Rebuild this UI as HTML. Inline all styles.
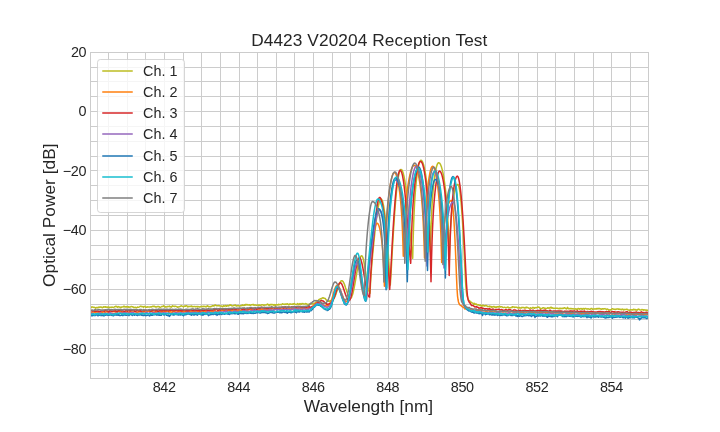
<!DOCTYPE html><html><head><meta charset="utf-8"><style>html,body{margin:0;padding:0;background:#fff}svg{display:block}text{font-family:"Liberation Sans",sans-serif;fill:#262626}</style></head><body>
<svg width="720" height="432" viewBox="0 0 720 432">
<defs><filter id="gf" x="0" y="0" width="720" height="432" filterUnits="userSpaceOnUse"><feOffset dx="0" dy="0"/></filter></defs>
<rect width="720" height="432" fill="#fff"/>
<path d="M90.5,52.0V378.5M108.5,52.0V378.5M127.5,52.0V378.5M145.5,52.0V378.5M164.5,52.0V378.5M183.5,52.0V378.5M201.5,52.0V378.5M220.5,52.0V378.5M239.5,52.0V378.5M257.5,52.0V378.5M276.5,52.0V378.5M294.5,52.0V378.5M313.5,52.0V378.5M332.5,52.0V378.5M350.5,52.0V378.5M369.5,52.0V378.5M388.5,52.0V378.5M406.5,52.0V378.5M425.5,52.0V378.5M444.5,52.0V378.5M462.5,52.0V378.5M481.5,52.0V378.5M499.5,52.0V378.5M518.5,52.0V378.5M537.5,52.0V378.5M555.5,52.0V378.5M574.5,52.0V378.5M593.5,52.0V378.5M611.5,52.0V378.5M630.5,52.0V378.5M648.5,52.0V378.5M90.0,378.5H648.5M90.0,363.5H648.5M90.0,348.5H648.5M90.0,334.5H648.5M90.0,319.5H648.5M90.0,304.5H648.5M90.0,289.5H648.5M90.0,274.5H648.5M90.0,259.5H648.5M90.0,245.5H648.5M90.0,230.5H648.5M90.0,215.5H648.5M90.0,200.5H648.5M90.0,185.5H648.5M90.0,170.5H648.5M90.0,156.5H648.5M90.0,141.5H648.5M90.0,126.5H648.5M90.0,111.5H648.5M90.0,96.5H648.5M90.0,81.5H648.5M90.0,67.5H648.5M90.0,52.5H648.5" stroke="#cccccc" stroke-width="1" fill="none" shape-rendering="crispEdges"/>
<clipPath id="c"><rect x="90" y="52" width="558" height="326"/></clipPath>
<g clip-path="url(#c)" fill="none" stroke-width="1.5" stroke-linejoin="round" stroke-opacity="1.00">
<path d="M90.0,307.0 L90.5,307.0 L91.0,307.8 L91.5,307.3 L92.0,306.8 L92.5,307.1 L93.0,307.2 L93.5,307.4 L94.0,307.2 L94.5,307.6 L95.0,307.5 L95.5,308.1 L96.0,307.8 L96.5,307.5 L97.0,307.7 L97.5,307.7 L98.0,307.2 L98.5,307.4 L99.0,307.1 L99.5,307.5 L100.0,307.1 L100.5,307.2 L101.0,306.9 L101.5,307.1 L102.0,307.6 L102.5,307.7 L103.0,307.2 L103.5,306.7 L104.0,307.2 L104.5,306.9 L105.0,306.8 L105.5,307.2 L106.0,306.8 L106.5,307.2 L107.0,307.5 L107.5,307.3 L108.0,306.9 L108.5,306.9 L109.0,307.5 L109.5,307.3 L110.0,307.6 L110.5,307.3 L111.0,307.2 L111.5,307.2 L112.0,307.1 L112.5,307.2 L113.0,307.4 L113.5,307.5 L114.0,307.2 L114.5,306.8 L115.0,306.7 L115.5,306.6 L116.0,306.2 L116.5,306.7 L117.0,306.6 L117.5,307.4 L118.0,307.0 L118.5,306.6 L119.0,306.9 L119.5,307.0 L120.0,307.2 L120.5,307.2 L121.0,307.6 L121.5,307.1 L122.0,307.1 L122.5,306.9 L123.0,306.8 L123.5,306.4 L124.0,306.9 L124.5,306.4 L125.0,306.8 L125.5,307.0 L126.0,307.1 L126.5,306.5 L127.0,307.0 L127.5,306.8 L128.0,307.0 L128.5,306.8 L129.0,307.5 L129.5,307.0 L130.0,306.9 L130.5,307.0 L131.0,306.5 L131.5,306.6 L132.0,306.7 L132.5,306.9 L133.0,306.8 L133.5,307.4 L134.0,307.7 L134.5,307.6 L135.0,307.2 L135.5,307.2 L136.0,307.7 L136.5,307.8 L137.0,307.5 L137.5,307.0 L138.0,307.3 L138.5,307.3 L139.0,307.1 L139.5,306.9 L140.0,306.5 L140.5,306.2 L141.0,306.2 L141.5,306.6 L142.0,306.8 L142.5,306.6 L143.0,306.7 L143.5,307.2 L144.0,306.6 L144.5,306.6 L145.0,306.4 L145.5,307.2 L146.0,306.9 L146.5,307.3 L147.0,307.2 L147.5,306.8 L148.0,307.0 L148.5,306.9 L149.0,307.0 L149.5,306.9 L150.0,307.0 L150.5,307.1 L151.0,306.7 L151.5,307.0 L152.0,306.6 L152.5,306.3 L153.0,306.4 L153.5,306.3 L154.0,306.4 L154.5,306.2 L155.0,306.8 L155.5,307.0 L156.0,306.7 L156.5,307.1 L157.0,306.9 L157.5,306.6 L158.0,306.3 L158.5,306.7 L159.0,306.7 L159.5,306.8 L160.0,307.6 L160.5,307.4 L161.0,307.0 L161.5,306.5 L162.0,306.5 L162.5,306.4 L163.0,306.4 L163.5,305.8 L164.0,306.3 L164.5,306.2 L165.0,307.1 L165.5,306.8 L166.0,307.0 L166.5,306.9 L167.0,306.5 L167.5,306.7 L168.0,306.5 L168.5,306.5 L169.0,306.5 L169.5,306.0 L170.0,306.8 L170.5,306.9 L171.0,306.7 L171.5,307.1 L172.0,306.5 L172.5,305.8 L173.0,306.3 L173.5,306.2 L174.0,306.4 L174.5,306.3 L175.0,306.4 L175.5,306.2 L176.0,306.4 L176.5,306.7 L177.0,306.7 L177.5,307.2 L178.0,307.0 L178.5,306.9 L179.0,306.8 L179.5,306.8 L180.0,306.6 L180.5,306.2 L181.0,306.0 L181.5,305.8 L182.0,306.1 L182.5,306.4 L183.0,306.6 L183.5,306.9 L184.0,306.5 L184.5,305.9 L185.0,306.0 L185.5,306.3 L186.0,305.8 L186.5,305.8 L187.0,305.8 L187.5,306.8 L188.0,306.9 L188.5,306.5 L189.0,306.3 L189.5,306.4 L190.0,306.5 L190.5,306.5 L191.0,306.1 L191.5,306.0 L192.0,306.7 L192.5,306.5 L193.0,306.8 L193.5,306.6 L194.0,306.6 L194.5,306.6 L195.0,306.4 L195.5,306.8 L196.0,306.8 L196.5,306.6 L197.0,306.5 L197.5,306.9 L198.0,306.4 L198.5,306.6 L199.0,306.8 L199.5,307.1 L200.0,307.1 L200.5,306.5 L201.0,306.7 L201.5,306.4 L202.0,306.6 L202.5,306.5 L203.0,306.7 L203.5,306.3 L204.0,306.3 L204.5,306.5 L205.0,306.5 L205.5,306.6 L206.0,307.0 L206.5,306.3 L207.0,306.3 L207.5,305.7 L208.0,306.2 L208.5,306.7 L209.0,306.4 L209.5,306.6 L210.0,307.0 L210.5,306.6 L211.0,306.6 L211.5,306.6 L212.0,306.1 L212.5,305.7 L213.0,305.8 L213.5,305.7 L214.0,306.1 L214.5,305.4 L215.0,305.1 L215.5,305.0 L216.0,305.6 L216.5,305.7 L217.0,305.8 L217.5,305.8 L218.0,305.7 L218.5,305.6 L219.0,305.8 L219.5,305.8 L220.0,305.9 L220.5,305.9 L221.0,305.9 L221.5,305.9 L222.0,306.5 L222.5,306.7 L223.0,306.6 L223.5,305.6 L224.0,305.9 L224.5,306.2 L225.0,306.1 L225.5,305.5 L226.0,305.5 L226.5,306.4 L227.0,306.0 L227.5,305.4 L228.0,305.5 L228.5,305.9 L229.0,305.8 L229.5,305.3 L230.0,304.8 L230.5,305.3 L231.0,305.0 L231.5,305.6 L232.0,305.9 L232.5,305.9 L233.0,305.7 L233.5,305.6 L234.0,305.5 L234.5,305.3 L235.0,305.1 L235.5,305.0 L236.0,305.8 L236.5,306.1 L237.0,305.8 L237.5,305.8 L238.0,305.5 L238.5,305.5 L239.0,305.9 L239.5,305.9 L240.0,305.9 L240.5,305.8 L241.0,305.8 L241.5,305.3 L242.0,305.6 L242.5,304.9 L243.0,305.2 L243.5,305.4 L244.0,305.4 L244.5,304.8 L245.0,305.3 L245.5,304.9 L246.0,304.3 L246.5,304.8 L247.0,305.0 L247.5,304.6 L248.0,305.0 L248.5,305.0 L249.0,305.1 L249.5,304.7 L250.0,305.2 L250.5,305.2 L251.0,305.1 L251.5,304.7 L252.0,304.7 L252.5,304.8 L253.0,304.4 L253.5,304.5 L254.0,305.2 L254.5,305.0 L255.0,305.0 L255.5,304.9 L256.0,305.2 L256.5,305.4 L257.0,305.2 L257.5,304.9 L258.0,305.2 L258.5,305.3 L259.0,305.0 L259.5,305.1 L260.0,305.2 L260.5,305.3 L261.0,305.1 L261.5,304.8 L262.0,304.9 L262.5,304.7 L263.0,304.8 L263.5,305.2 L264.0,305.3 L264.5,305.0 L265.0,305.0 L265.5,305.0 L266.0,305.0 L266.5,304.7 L267.0,304.6 L267.5,304.0 L268.0,304.4 L268.5,305.1 L269.0,304.7 L269.5,305.1 L270.0,304.6 L270.5,304.5 L271.0,304.9 L271.5,304.4 L272.0,304.4 L272.5,304.8 L273.0,304.6 L273.5,304.8 L274.0,305.4 L274.5,304.6 L275.0,304.9 L275.5,305.3 L276.0,304.8 L276.5,304.6 L277.0,304.8 L277.5,304.8 L278.0,305.1 L278.5,304.3 L279.0,304.4 L279.5,304.7 L280.0,304.7 L280.5,304.4 L281.0,304.6 L281.5,304.7 L282.0,304.2 L282.5,303.7 L283.0,304.1 L283.5,304.2 L284.0,304.3 L284.5,304.4 L285.0,304.1 L285.5,304.0 L286.0,304.5 L286.5,304.2 L287.0,303.8 L287.5,303.7 L288.0,304.2 L288.5,304.8 L289.0,304.8 L289.5,304.0 L290.0,304.1 L290.5,303.9 L291.0,304.3 L291.5,304.3 L292.0,304.1 L292.5,303.9 L293.0,304.4 L293.5,303.8 L294.0,303.8 L294.5,303.6 L295.0,304.1 L295.5,304.5 L296.0,304.4 L296.5,304.5 L297.0,304.2 L297.5,303.6 L298.0,303.9 L298.5,304.5 L299.0,304.0 L299.5,304.3 L300.0,303.6 L300.5,304.0 L301.0,304.3 L301.5,304.2 L302.0,303.5 L302.5,303.8 L303.0,303.6 L303.5,304.0 L304.0,304.1 L304.5,304.0 L305.0,304.0 L305.5,303.6 L306.0,303.7 L306.5,304.0 L307.0,304.1 L307.5,304.5 L308.0,304.4 L308.5,304.9 L309.0,304.1 L309.5,304.0 L310.0,304.0 L310.5,303.6 L311.0,303.9 L311.5,303.8 L312.0,303.8 L312.5,303.8 L313.0,304.0 L313.5,304.1 L314.0,303.7 L314.5,303.7 L315.0,302.9 L315.5,302.5 L316.0,302.1 L316.5,302.0 L317.0,301.6 L317.5,301.0 L318.0,300.6 L318.5,300.2 L319.0,299.4 L319.5,299.5 L320.0,299.0 L320.5,298.8 L321.0,298.6 L321.5,298.7 L322.0,298.2 L322.5,297.9 L322.8,297.7 L323.0,297.8 L323.5,298.0 L324.0,298.2 L324.5,298.3 L325.0,298.4 L325.5,298.9 L326.0,299.7 L326.5,300.1 L327.0,300.5 L327.5,301.0 L328.0,301.3 L328.5,300.9 L329.0,301.2 L329.5,301.0 L330.0,301.2 L330.5,300.8 L331.0,300.7 L331.5,300.2 L332.0,300.0 L332.5,300.0 L333.0,299.5 L333.5,299.1 L334.0,298.2 L334.5,297.4 L335.0,296.4 L335.5,295.2 L336.0,293.9 L336.5,292.3 L337.0,291.0 L337.5,289.5 L338.0,287.6 L338.5,286.0 L339.0,284.8 L339.5,283.6 L340.0,282.4 L340.5,281.7 L341.0,281.0 L341.5,280.7 L341.7,280.7 L342.0,280.7 L342.5,280.9 L343.0,281.5 L343.5,282.3 L344.0,283.4 L344.5,284.5 L345.0,286.0 L345.5,287.7 L346.0,289.1 L346.5,290.6 L347.0,292.1 L347.5,293.5 L348.0,294.7 L348.5,295.6 L349.0,297.0 L349.5,297.4 L350.0,297.9 L350.5,298.1 L351.0,298.0 L351.5,297.4 L352.0,296.1 L352.5,294.8 L353.0,293.1 L353.5,290.9 L354.0,288.6 L354.5,285.9 L355.0,283.3 L355.5,280.4 L356.0,277.4 L356.5,274.5 L357.0,271.6 L357.5,268.8 L358.0,266.2 L358.5,263.7 L359.0,261.6 L359.5,259.7 L360.0,258.2 L360.5,257.0 L361.0,256.2 L361.5,255.8 L361.7,255.8 L362.0,255.9 L362.5,256.7 L363.0,258.0 L363.5,260.0 L364.0,262.4 L364.5,265.3 L365.0,268.5 L365.5,271.9 L366.0,275.5 L366.5,279.0 L367.0,282.3 L367.5,285.2 L368.0,287.8 L368.5,289.9 L369.0,291.6 L369.5,292.8 L370.0,293.2 L370.5,283.5 L371.0,275.3 L371.5,268.4 L372.0,262.1 L372.5,256.4 L373.0,251.0 L373.5,245.9 L374.0,241.0 L374.5,236.2 L375.0,231.5 L375.5,227.0 L376.0,222.7 L376.5,218.7 L377.0,214.8 L377.5,211.3 L378.0,208.2 L378.5,205.5 L379.0,203.2 L379.5,201.4 L380.0,200.1 L380.5,199.3 L381.0,199.0 L381.5,199.3 L382.0,200.0 L382.5,201.3 L383.0,203.1 L383.5,205.5 L384.0,208.3 L384.5,211.7 L385.0,215.5 L385.5,219.9 L386.0,224.8 L386.5,230.2 L387.0,236.1 L387.5,242.5 L388.0,249.4 L388.5,256.8 L389.0,264.5 L389.5,272.5 L390.0,280.5 L390.3,284.9 L390.5,282.0 L391.0,273.7 L391.5,264.9 L392.0,256.0 L392.5,247.1 L393.0,238.6 L393.5,230.4 L394.0,222.6 L394.5,215.4 L395.0,208.6 L395.5,202.4 L396.0,196.7 L396.5,191.5 L397.0,186.9 L397.5,182.8 L398.0,179.2 L398.5,176.2 L399.0,173.8 L399.5,171.9 L400.0,170.5 L400.5,169.7 L401.0,169.4 L401.5,169.6 L402.0,170.2 L402.5,171.2 L403.0,172.5 L403.5,174.3 L404.0,176.4 L404.5,179.0 L405.0,181.9 L405.5,185.2 L406.0,188.9 L406.5,193.0 L407.0,197.5 L407.5,202.3 L408.0,207.4 L408.5,212.9 L409.0,218.6 L409.5,224.5 L410.0,230.5 L410.5,236.6 L411.0,242.4 L411.5,248.0 L412.0,252.9 L412.5,257.0 L412.7,258.3 L413.0,245.2 L413.5,227.8 L414.0,214.6 L414.5,204.4 L415.0,196.3 L415.5,189.6 L416.0,184.1 L416.5,179.3 L417.0,175.2 L417.5,171.7 L418.0,168.7 L418.5,166.1 L419.0,164.0 L419.5,162.4 L420.0,161.2 L420.5,160.5 L421.0,160.3 L421.5,160.5 L422.0,161.0 L422.5,161.8 L423.0,163.0 L423.5,164.5 L424.0,166.4 L424.5,168.6 L425.0,171.1 L425.5,174.0 L426.0,177.3 L426.5,181.1 L427.0,185.4 L427.5,190.4 L428.0,196.3 L428.5,203.5 L429.0,212.2 L429.5,223.3 L430.0,237.5 L430.4,251.7 L430.5,247.5 L431.0,229.7 L431.5,216.3 L432.0,206.1 L432.5,198.1 L433.0,191.6 L433.5,186.2 L434.0,181.6 L434.5,177.7 L435.0,174.3 L435.5,171.3 L436.0,168.8 L436.5,166.8 L437.0,165.1 L437.5,163.9 L438.0,163.1 L438.5,162.7 L438.7,162.7 L439.0,162.8 L439.5,163.1 L440.0,163.7 L440.5,164.5 L441.0,165.7 L441.5,167.1 L442.0,168.9 L442.5,170.9 L443.0,173.2 L443.5,175.8 L444.0,178.8 L444.5,182.1 L445.0,185.8 L445.5,189.9 L446.0,194.7 L446.5,200.2 L447.0,206.6 L447.5,214.4 L448.0,223.8 L448.5,235.5 L449.0,250.0 L449.3,260.4 L449.5,253.6 L450.0,239.6 L450.5,228.9 L451.0,220.6 L451.5,214.1 L452.0,208.8 L452.5,204.3 L453.0,200.5 L453.5,197.2 L454.0,194.4 L454.5,191.9 L455.0,189.8 L455.5,188.0 L456.0,186.6 L456.5,185.6 L457.0,184.8 L457.5,184.5 L457.8,184.4 L458.0,184.5 L458.5,185.2 L459.0,186.8 L459.5,189.3 L460.0,192.6 L460.5,196.7 L461.0,201.7 L461.5,207.6 L462.0,214.3 L462.5,221.8 L463.0,230.1 L463.5,239.3 L464.0,249.2 L464.5,259.6 L465.0,270.3 L465.5,280.2 L466.0,287.9 L466.5,292.6 L467.0,295.8 L467.5,297.2 L468.0,298.7 L468.5,300.2 L469.0,300.6 L469.5,300.6 L470.0,301.3 L470.5,302.1 L471.0,302.0 L471.5,302.6 L472.0,302.9 L472.5,303.0 L473.0,303.2 L473.5,303.9 L474.0,304.6 L474.5,303.4 L475.0,303.8 L475.5,304.4 L476.0,304.0 L476.5,304.2 L477.0,304.6 L477.5,305.0 L478.0,305.1 L478.5,304.7 L479.0,305.0 L479.5,305.4 L480.0,305.7 L480.5,305.1 L481.0,305.8 L481.5,305.6 L482.0,306.2 L482.5,305.5 L483.0,305.2 L483.5,305.5 L484.0,306.0 L484.5,305.8 L485.0,306.0 L485.5,305.5 L486.0,305.4 L486.5,305.7 L487.0,306.0 L487.5,306.6 L488.0,306.6 L488.5,306.5 L489.0,306.5 L489.5,306.1 L490.0,306.8 L490.5,306.5 L491.0,306.4 L491.5,307.4 L492.0,306.8 L492.5,307.0 L493.0,306.9 L493.5,306.6 L494.0,306.5 L494.5,306.8 L495.0,307.4 L495.5,307.4 L496.0,306.9 L496.5,307.3 L497.0,307.0 L497.5,306.8 L498.0,306.6 L498.5,307.0 L499.0,306.4 L499.5,306.4 L500.0,306.8 L500.5,307.1 L501.0,306.6 L501.5,306.8 L502.0,306.8 L502.5,307.2 L503.0,307.4 L503.5,307.6 L504.0,307.4 L504.5,307.2 L505.0,307.4 L505.5,307.6 L506.0,307.7 L506.5,307.7 L507.0,307.3 L507.5,307.3 L508.0,307.0 L508.5,307.9 L509.0,307.6 L509.5,307.8 L510.0,307.8 L510.5,307.8 L511.0,307.6 L511.5,307.3 L512.0,307.6 L512.5,306.7 L513.0,307.0 L513.5,307.0 L514.0,307.1 L514.5,307.5 L515.0,307.2 L515.5,307.3 L516.0,307.1 L516.5,307.3 L517.0,307.3 L517.5,307.7 L518.0,308.0 L518.5,307.8 L519.0,307.4 L519.5,307.9 L520.0,307.8 L520.5,308.0 L521.0,308.0 L521.5,308.0 L522.0,307.3 L522.5,307.6 L523.0,307.5 L523.5,307.6 L524.0,307.6 L524.5,308.1 L525.0,307.8 L525.5,307.9 L526.0,307.2 L526.5,307.7 L527.0,307.3 L527.5,307.6 L528.0,307.7 L528.5,308.1 L529.0,308.2 L529.5,308.4 L530.0,308.4 L530.5,307.7 L531.0,308.0 L531.5,308.2 L532.0,308.2 L532.5,307.9 L533.0,307.4 L533.5,307.8 L534.0,308.0 L534.5,308.3 L535.0,307.6 L535.5,307.7 L536.0,307.8 L536.5,307.8 L537.0,307.4 L537.5,307.2 L538.0,307.0 L538.5,307.2 L539.0,307.2 L539.5,307.6 L540.0,308.1 L540.5,309.2 L541.0,308.4 L541.5,308.5 L542.0,308.5 L542.5,308.1 L543.0,307.7 L543.5,307.7 L544.0,308.1 L544.5,308.2 L545.0,308.1 L545.5,308.5 L546.0,308.6 L546.5,308.6 L547.0,308.4 L547.5,307.8 L548.0,307.8 L548.5,308.0 L549.0,308.5 L549.5,308.0 L550.0,307.6 L550.5,307.3 L551.0,307.9 L551.5,307.4 L552.0,308.1 L552.5,307.8 L553.0,308.3 L553.5,308.2 L554.0,308.6 L554.5,308.4 L555.0,308.2 L555.5,308.3 L556.0,308.2 L556.5,308.3 L557.0,308.1 L557.5,308.3 L558.0,308.6 L558.5,308.4 L559.0,308.8 L559.5,308.2 L560.0,308.8 L560.5,308.2 L561.0,308.6 L561.5,308.4 L562.0,308.7 L562.5,308.3 L563.0,308.2 L563.5,308.4 L564.0,308.0 L564.5,307.8 L565.0,308.0 L565.5,308.3 L566.0,308.7 L566.5,308.9 L567.0,308.4 L567.5,307.4 L568.0,308.3 L568.5,308.8 L569.0,308.5 L569.5,308.7 L570.0,308.8 L570.5,308.4 L571.0,308.7 L571.5,308.6 L572.0,308.9 L572.5,308.8 L573.0,308.6 L573.5,308.9 L574.0,309.0 L574.5,309.1 L575.0,308.9 L575.5,308.8 L576.0,309.2 L576.5,309.1 L577.0,309.2 L577.5,309.2 L578.0,308.6 L578.5,308.5 L579.0,308.8 L579.5,309.2 L580.0,308.8 L580.5,308.7 L581.0,308.5 L581.5,308.7 L582.0,309.3 L582.5,309.3 L583.0,308.5 L583.5,308.5 L584.0,309.1 L584.5,309.2 L585.0,308.4 L585.5,308.6 L586.0,308.6 L586.5,309.0 L587.0,309.0 L587.5,309.0 L588.0,308.7 L588.5,309.1 L589.0,309.1 L589.5,309.2 L590.0,309.3 L590.5,309.0 L591.0,308.6 L591.5,308.5 L592.0,308.6 L592.5,309.5 L593.0,309.1 L593.5,308.9 L594.0,308.9 L594.5,308.9 L595.0,308.8 L595.5,309.1 L596.0,309.1 L596.5,308.5 L597.0,309.0 L597.5,308.5 L598.0,308.8 L598.5,308.5 L599.0,308.7 L599.5,308.5 L600.0,308.8 L600.5,308.8 L601.0,309.2 L601.5,309.3 L602.0,308.7 L602.5,309.1 L603.0,308.7 L603.5,309.1 L604.0,308.8 L604.5,308.8 L605.0,308.6 L605.5,308.9 L606.0,309.1 L606.5,309.6 L607.0,308.9 L607.5,309.0 L608.0,309.4 L608.5,309.9 L609.0,310.0 L609.5,309.9 L610.0,309.7 L610.5,310.1 L611.0,309.8 L611.5,309.4 L612.0,308.9 L612.5,308.7 L613.0,308.9 L613.5,309.2 L614.0,309.2 L614.5,309.3 L615.0,309.5 L615.5,309.3 L616.0,309.4 L616.5,309.1 L617.0,309.0 L617.5,309.1 L618.0,308.8 L618.5,309.2 L619.0,309.4 L619.5,309.1 L620.0,309.4 L620.5,309.4 L621.0,309.2 L621.5,309.7 L622.0,309.5 L622.5,309.1 L623.0,309.4 L623.5,309.9 L624.0,309.4 L624.5,309.7 L625.0,309.5 L625.5,309.6 L626.0,309.6 L626.5,309.2 L627.0,309.2 L627.5,309.6 L628.0,310.0 L628.5,309.9 L629.0,310.2 L629.5,310.5 L630.0,310.0 L630.5,309.8 L631.0,309.8 L631.5,309.8 L632.0,310.1 L632.5,309.7 L633.0,310.0 L633.5,309.2 L634.0,309.4 L634.5,309.4 L635.0,309.9 L635.5,309.6 L636.0,310.1 L636.5,310.1 L637.0,310.2 L637.5,309.5 L638.0,309.6 L638.5,309.1 L639.0,309.3 L639.5,309.4 L640.0,310.0 L640.5,309.9 L641.0,309.9 L641.5,309.8 L642.0,309.4 L642.5,309.8 L643.0,309.8 L643.5,310.2 L644.0,309.7 L644.5,309.9 L645.0,309.9 L645.5,309.9 L646.0,310.4 L646.5,310.1 L647.0,309.9 L647.5,310.7 L648.0,310.5 L648.5,310.2 L649.0,309.8" stroke="#bcbd22"/>
<path d="M90.0,312.4 L90.5,312.6 L91.0,312.6 L91.5,312.8 L92.0,312.2 L92.5,312.0 L93.0,311.8 L93.5,311.8 L94.0,312.3 L94.5,312.3 L95.0,312.0 L95.5,311.8 L96.0,312.4 L96.5,311.9 L97.0,311.9 L97.5,312.2 L98.0,312.5 L98.5,312.7 L99.0,312.2 L99.5,311.8 L100.0,311.6 L100.5,312.0 L101.0,312.1 L101.5,312.5 L102.0,312.5 L102.5,312.6 L103.0,312.0 L103.5,311.7 L104.0,311.9 L104.5,312.2 L105.0,311.9 L105.5,312.4 L106.0,311.7 L106.5,311.9 L107.0,311.7 L107.5,312.0 L108.0,312.2 L108.5,312.0 L109.0,312.2 L109.5,312.5 L110.0,312.0 L110.5,311.8 L111.0,311.6 L111.5,311.7 L112.0,311.6 L112.5,311.3 L113.0,311.9 L113.5,311.6 L114.0,311.1 L114.5,311.7 L115.0,311.5 L115.5,311.9 L116.0,312.3 L116.5,311.8 L117.0,311.5 L117.5,312.1 L118.0,311.5 L118.5,311.4 L119.0,311.4 L119.5,311.5 L120.0,312.1 L120.5,312.0 L121.0,311.4 L121.5,312.1 L122.0,312.2 L122.5,312.0 L123.0,312.5 L123.5,312.5 L124.0,312.4 L124.5,312.0 L125.0,311.9 L125.5,312.4 L126.0,312.3 L126.5,312.0 L127.0,311.6 L127.5,311.9 L128.0,312.0 L128.5,312.2 L129.0,312.3 L129.5,312.3 L130.0,312.1 L130.5,312.1 L131.0,311.9 L131.5,312.0 L132.0,312.1 L132.5,312.1 L133.0,311.7 L133.5,311.9 L134.0,311.9 L134.5,311.6 L135.0,311.7 L135.5,312.0 L136.0,311.8 L136.5,312.3 L137.0,312.2 L137.5,312.3 L138.0,312.3 L138.5,311.5 L139.0,311.1 L139.5,311.7 L140.0,311.6 L140.5,311.6 L141.0,311.9 L141.5,311.9 L142.0,311.9 L142.5,311.6 L143.0,312.1 L143.5,311.3 L144.0,311.9 L144.5,311.7 L145.0,312.0 L145.5,311.9 L146.0,311.9 L146.5,312.3 L147.0,311.8 L147.5,311.1 L148.0,311.3 L148.5,310.8 L149.0,311.1 L149.5,311.2 L150.0,311.6 L150.5,311.5 L151.0,311.7 L151.5,311.3 L152.0,311.6 L152.5,311.6 L153.0,312.0 L153.5,312.5 L154.0,312.3 L154.5,312.2 L155.0,311.7 L155.5,311.5 L156.0,312.2 L156.5,311.4 L157.0,311.5 L157.5,311.7 L158.0,312.0 L158.5,311.7 L159.0,311.7 L159.5,311.9 L160.0,312.2 L160.5,311.9 L161.0,311.7 L161.5,312.1 L162.0,312.2 L162.5,311.7 L163.0,311.8 L163.5,311.7 L164.0,311.7 L164.5,311.2 L165.0,311.5 L165.5,311.6 L166.0,311.2 L166.5,311.4 L167.0,311.3 L167.5,311.3 L168.0,311.4 L168.5,312.2 L169.0,312.2 L169.5,311.6 L170.0,312.0 L170.5,311.7 L171.0,312.0 L171.5,312.0 L172.0,312.2 L172.5,312.2 L173.0,311.7 L173.5,311.5 L174.0,311.6 L174.5,311.7 L175.0,312.0 L175.5,312.5 L176.0,312.1 L176.5,312.4 L177.0,312.1 L177.5,312.0 L178.0,311.5 L178.5,311.6 L179.0,311.8 L179.5,311.6 L180.0,311.4 L180.5,311.5 L181.0,311.9 L181.5,312.0 L182.0,311.5 L182.5,311.8 L183.0,311.6 L183.5,311.4 L184.0,311.9 L184.5,311.8 L185.0,311.7 L185.5,311.6 L186.0,310.6 L186.5,311.4 L187.0,311.9 L187.5,310.9 L188.0,310.4 L188.5,310.9 L189.0,311.5 L189.5,311.6 L190.0,311.7 L190.5,311.3 L191.0,311.1 L191.5,311.4 L192.0,311.0 L192.5,311.6 L193.0,311.7 L193.5,311.5 L194.0,311.2 L194.5,311.8 L195.0,311.6 L195.5,311.0 L196.0,310.9 L196.5,310.6 L197.0,311.3 L197.5,311.0 L198.0,311.2 L198.5,311.4 L199.0,311.8 L199.5,311.1 L200.0,311.5 L200.5,311.3 L201.0,311.3 L201.5,310.6 L202.0,311.0 L202.5,311.2 L203.0,311.4 L203.5,311.5 L204.0,311.1 L204.5,310.7 L205.0,311.2 L205.5,310.8 L206.0,311.8 L206.5,311.4 L207.0,310.6 L207.5,311.2 L208.0,311.1 L208.5,310.9 L209.0,310.9 L209.5,310.9 L210.0,310.5 L210.5,311.2 L211.0,311.5 L211.5,311.3 L212.0,310.9 L212.5,311.0 L213.0,311.3 L213.5,311.3 L214.0,311.0 L214.5,311.1 L215.0,310.6 L215.5,311.0 L216.0,311.4 L216.5,311.4 L217.0,311.4 L217.5,311.3 L218.0,310.6 L218.5,311.2 L219.0,311.3 L219.5,310.7 L220.0,310.7 L220.5,311.0 L221.0,311.0 L221.5,310.5 L222.0,310.3 L222.5,310.2 L223.0,310.5 L223.5,310.9 L224.0,311.0 L224.5,310.7 L225.0,310.8 L225.5,310.5 L226.0,310.9 L226.5,310.8 L227.0,310.6 L227.5,310.9 L228.0,310.7 L228.5,310.5 L229.0,310.2 L229.5,310.4 L230.0,310.9 L230.5,310.3 L231.0,310.7 L231.5,310.2 L232.0,310.1 L232.5,310.6 L233.0,310.2 L233.5,310.2 L234.0,310.2 L234.5,310.7 L235.0,310.6 L235.5,310.3 L236.0,310.2 L236.5,310.4 L237.0,310.1 L237.5,310.4 L238.0,310.7 L238.5,310.6 L239.0,310.1 L239.5,310.6 L240.0,310.4 L240.5,310.7 L241.0,310.6 L241.5,310.3 L242.0,309.6 L242.5,310.5 L243.0,310.0 L243.5,310.2 L244.0,310.4 L244.5,310.7 L245.0,310.0 L245.5,310.5 L246.0,310.0 L246.5,309.9 L247.0,310.6 L247.5,310.2 L248.0,310.0 L248.5,309.5 L249.0,309.7 L249.5,309.1 L250.0,309.6 L250.5,309.9 L251.0,309.9 L251.5,309.5 L252.0,310.2 L252.5,309.9 L253.0,309.6 L253.5,309.7 L254.0,309.4 L254.5,309.3 L255.0,309.1 L255.5,309.1 L256.0,308.8 L256.5,309.3 L257.0,309.4 L257.5,309.4 L258.0,309.6 L258.5,309.4 L259.0,310.1 L259.5,309.4 L260.0,309.5 L260.5,309.7 L261.0,309.5 L261.5,309.2 L262.0,309.0 L262.5,309.6 L263.0,309.4 L263.5,309.6 L264.0,308.9 L264.5,309.0 L265.0,309.3 L265.5,309.3 L266.0,309.3 L266.5,309.1 L267.0,309.5 L267.5,309.3 L268.0,309.5 L268.5,309.5 L269.0,309.2 L269.5,309.2 L270.0,309.2 L270.5,309.0 L271.0,309.1 L271.5,308.9 L272.0,308.6 L272.5,308.9 L273.0,309.1 L273.5,309.3 L274.0,309.4 L274.5,309.0 L275.0,308.8 L275.5,309.3 L276.0,308.9 L276.5,308.4 L277.0,308.2 L277.5,308.4 L278.0,309.2 L278.5,308.7 L279.0,309.2 L279.5,308.8 L280.0,308.8 L280.5,308.6 L281.0,309.3 L281.5,309.5 L282.0,308.9 L282.5,309.0 L283.0,308.4 L283.5,308.5 L284.0,308.7 L284.5,308.6 L285.0,308.8 L285.5,308.1 L286.0,309.1 L286.5,308.8 L287.0,308.2 L287.5,308.2 L288.0,308.0 L288.5,308.0 L289.0,308.6 L289.5,308.6 L290.0,309.0 L290.5,309.1 L291.0,309.4 L291.5,308.7 L292.0,308.3 L292.5,308.5 L293.0,308.9 L293.5,309.1 L294.0,308.7 L294.5,308.7 L295.0,309.1 L295.5,309.2 L296.0,308.3 L296.5,308.6 L297.0,308.8 L297.5,308.7 L298.0,308.5 L298.5,307.9 L299.0,308.3 L299.5,308.6 L300.0,308.7 L300.5,307.9 L301.0,308.4 L301.5,308.6 L302.0,308.7 L302.5,308.2 L303.0,308.3 L303.5,308.1 L304.0,308.1 L304.5,308.2 L305.0,308.4 L305.5,308.0 L306.0,308.5 L306.5,309.0 L307.0,308.6 L307.5,308.5 L308.0,308.4 L308.5,308.2 L309.0,308.2 L309.5,308.1 L310.0,308.5 L310.5,308.2 L311.0,307.5 L311.5,307.0 L312.0,306.7 L312.5,306.1 L313.0,306.0 L313.5,305.8 L314.0,304.8 L314.5,304.3 L315.0,303.9 L315.5,303.4 L316.0,303.3 L316.5,302.6 L317.0,302.5 L317.5,302.4 L318.0,302.6 L318.5,302.2 L319.0,302.1 L319.5,302.4 L320.0,302.1 L320.5,302.4 L321.0,303.1 L321.5,303.3 L322.0,303.9 L322.5,304.5 L323.0,304.9 L323.5,305.4 L324.0,305.6 L324.5,305.5 L325.0,305.5 L325.5,305.4 L326.0,305.9 L326.5,305.9 L327.0,305.8 L327.5,305.3 L328.0,306.0 L328.5,305.5 L329.0,304.5 L329.5,304.1 L330.0,303.2 L330.5,302.3 L331.0,301.4 L331.5,300.1 L332.0,298.4 L332.5,296.7 L333.0,294.9 L333.5,293.1 L334.0,291.4 L334.5,290.0 L335.0,288.5 L335.5,287.2 L336.0,286.3 L336.5,285.6 L337.0,285.5 L337.5,285.6 L338.0,285.9 L338.5,286.4 L339.0,287.1 L339.5,288.2 L340.0,289.2 L340.5,290.3 L341.0,291.5 L341.5,292.9 L342.0,294.2 L342.5,295.4 L343.0,296.7 L343.5,298.0 L344.0,299.2 L344.5,299.8 L345.0,300.6 L345.5,301.3 L346.0,301.7 L346.4,301.5 L346.5,301.3 L347.0,301.0 L347.5,300.6 L348.0,299.9 L348.5,298.5 L349.0,296.8 L349.5,295.0 L350.0,293.1 L350.5,290.8 L351.0,288.4 L351.5,286.0 L352.0,283.5 L352.5,281.0 L353.0,278.5 L353.5,276.2 L354.0,274.0 L354.5,272.0 L355.0,270.3 L355.5,268.8 L356.0,267.6 L356.5,266.7 L357.0,266.2 L357.5,266.0 L358.0,266.3 L358.5,267.0 L359.0,268.2 L359.5,269.9 L360.0,271.9 L360.5,274.2 L361.0,276.8 L361.5,279.6 L362.0,282.5 L362.5,285.3 L363.0,288.1 L363.5,290.8 L364.0,293.0 L364.5,295.0 L365.0,296.6 L365.5,297.8 L366.0,298.5 L366.5,298.9 L367.0,291.1 L367.5,284.3 L368.0,278.7 L368.5,273.6 L369.0,268.9 L369.5,264.5 L370.0,260.3 L370.5,256.2 L371.0,252.3 L371.5,248.5 L372.0,244.8 L372.5,241.3 L373.0,238.0 L373.5,234.9 L374.0,232.1 L374.5,229.7 L375.0,227.6 L375.5,225.9 L376.0,224.6 L376.5,223.7 L377.0,223.3 L377.2,223.3 L377.5,223.4 L378.0,223.8 L378.5,224.7 L379.0,226.0 L379.5,227.7 L380.0,229.8 L380.5,232.3 L381.0,235.3 L381.5,238.9 L382.0,243.1 L382.5,248.3 L383.0,254.9 L383.5,263.5 L384.0,274.9 L384.4,286.3 L384.5,282.4 L385.0,263.6 L385.5,248.1 L386.0,235.6 L386.5,225.5 L387.0,217.2 L387.5,210.2 L388.0,204.3 L388.5,199.1 L389.0,194.5 L389.5,190.4 L390.0,186.8 L390.5,183.7 L391.0,180.9 L391.5,178.6 L392.0,176.6 L392.5,175.0 L393.0,173.8 L393.5,173.0 L394.0,172.6 L394.3,172.5 L394.5,172.5 L395.0,172.8 L395.5,173.5 L396.0,174.4 L396.5,175.8 L397.0,177.4 L397.5,179.4 L398.0,181.8 L398.5,184.5 L399.0,187.6 L399.5,191.1 L400.0,195.2 L400.5,199.9 L401.0,205.5 L401.5,212.4 L402.0,220.9 L402.5,231.8 L403.0,245.9 L403.3,256.3 L403.5,249.9 L404.0,236.1 L404.5,225.0 L405.0,216.0 L405.5,208.6 L406.0,202.4 L406.5,197.1 L407.0,192.6 L407.5,188.6 L408.0,185.1 L408.5,182.0 L409.0,179.2 L409.5,176.6 L410.0,174.4 L410.5,172.4 L411.0,170.6 L411.5,169.1 L412.0,167.9 L412.5,166.9 L413.0,166.1 L413.5,165.6 L414.0,165.3 L414.3,165.3 L414.5,165.3 L415.0,165.6 L415.5,166.1 L416.0,167.0 L416.5,168.1 L417.0,169.5 L417.5,171.2 L418.0,173.3 L418.5,175.6 L419.0,178.2 L419.5,181.1 L420.0,184.5 L420.5,188.2 L421.0,192.5 L421.5,197.4 L422.0,203.1 L422.5,210.0 L423.0,218.3 L423.5,228.7 L424.0,241.6 L424.5,258.0 L425.0,238.2 L425.5,223.4 L426.0,212.2 L426.5,203.5 L427.0,196.5 L427.5,190.8 L428.0,185.9 L428.5,181.7 L429.0,178.2 L429.5,175.1 L430.0,172.5 L430.5,170.3 L431.0,168.6 L431.5,167.4 L432.0,166.6 L432.5,166.3 L432.6,166.3 L433.0,166.4 L433.5,166.9 L434.0,167.8 L434.5,169.0 L435.0,170.7 L435.5,172.7 L436.0,175.1 L436.5,177.9 L437.0,181.1 L437.5,184.7 L438.0,188.9 L438.5,193.7 L439.0,199.3 L439.5,206.1 L440.0,214.2 L440.5,224.5 L441.0,237.5 L441.5,254.4 L441.7,262.5 L442.0,255.3 L442.5,245.3 L443.0,237.5 L443.5,231.4 L444.0,226.3 L444.5,222.2 L445.0,218.7 L445.5,215.7 L446.0,213.0 L446.5,210.7 L447.0,208.7 L447.5,206.9 L448.0,205.3 L448.5,203.9 L449.0,202.8 L449.5,201.9 L450.0,201.2 L450.5,200.8 L451.0,200.5 L451.3,200.5 L451.5,200.6 L452.0,201.9 L452.5,204.7 L453.0,208.9 L453.5,214.6 L454.0,221.7 L454.5,230.2 L455.0,240.2 L455.5,251.5 L456.0,263.9 L456.5,276.7 L457.0,288.3 L457.5,295.8 L458.0,299.5 L458.5,302.0 L459.0,303.4 L459.5,304.5 L460.0,305.0 L460.5,305.4 L461.0,305.5 L461.5,305.9 L462.0,306.4 L462.5,307.0 L463.0,306.9 L463.5,307.2 L464.0,307.8 L464.5,308.4 L465.0,309.0 L465.5,309.0 L466.0,308.6 L466.5,308.3 L467.0,308.8 L467.5,309.0 L468.0,309.0 L468.5,309.2 L469.0,309.7 L469.5,309.4 L470.0,309.8 L470.5,310.0 L471.0,310.0 L471.5,310.3 L472.0,309.9 L472.5,309.4 L473.0,309.4 L473.5,310.0 L474.0,310.5 L474.5,310.7 L475.0,310.4 L475.5,310.8 L476.0,310.6 L476.5,310.7 L477.0,310.5 L477.5,310.5 L478.0,311.0 L478.5,309.9 L479.0,310.2 L479.5,310.2 L480.0,310.5 L480.5,310.4 L481.0,311.0 L481.5,311.0 L482.0,310.5 L482.5,310.5 L483.0,310.9 L483.5,310.8 L484.0,310.8 L484.5,310.7 L485.0,311.0 L485.5,311.5 L486.0,311.4 L486.5,311.5 L487.0,311.5 L487.5,310.9 L488.0,310.7 L488.5,310.6 L489.0,310.4 L489.5,311.5 L490.0,311.5 L490.5,311.4 L491.0,310.9 L491.5,311.3 L492.0,311.4 L492.5,312.1 L493.0,312.1 L493.5,311.9 L494.0,311.6 L494.5,311.0 L495.0,311.4 L495.5,311.4 L496.0,311.5 L496.5,311.7 L497.0,312.2 L497.5,312.0 L498.0,312.0 L498.5,311.9 L499.0,311.6 L499.5,311.5 L500.0,311.5 L500.5,311.8 L501.0,312.1 L501.5,311.9 L502.0,311.5 L502.5,311.7 L503.0,312.2 L503.5,311.9 L504.0,311.8 L504.5,311.6 L505.0,311.4 L505.5,312.0 L506.0,311.9 L506.5,311.8 L507.0,311.7 L507.5,311.7 L508.0,311.8 L508.5,312.0 L509.0,312.3 L509.5,312.5 L510.0,311.6 L510.5,312.0 L511.0,311.6 L511.5,311.4 L512.0,311.8 L512.5,311.9 L513.0,312.0 L513.5,312.0 L514.0,311.3 L514.5,312.0 L515.0,311.7 L515.5,312.0 L516.0,311.8 L516.5,312.0 L517.0,312.6 L517.5,312.1 L518.0,312.1 L518.5,311.8 L519.0,311.6 L519.5,312.0 L520.0,312.0 L520.5,311.9 L521.0,312.4 L521.5,312.7 L522.0,311.7 L522.5,312.2 L523.0,312.3 L523.5,311.7 L524.0,312.3 L524.5,312.1 L525.0,312.0 L525.5,311.9 L526.0,312.0 L526.5,312.3 L527.0,312.1 L527.5,311.7 L528.0,311.8 L528.5,312.0 L529.0,312.1 L529.5,312.2 L530.0,312.3 L530.5,311.5 L531.0,312.3 L531.5,312.4 L532.0,311.6 L532.5,312.3 L533.0,312.7 L533.5,312.6 L534.0,312.2 L534.5,312.3 L535.0,312.3 L535.5,313.0 L536.0,312.2 L536.5,312.4 L537.0,312.5 L537.5,312.8 L538.0,312.3 L538.5,312.8 L539.0,312.6 L539.5,312.6 L540.0,312.8 L540.5,312.5 L541.0,312.3 L541.5,312.9 L542.0,312.6 L542.5,312.1 L543.0,312.0 L543.5,312.4 L544.0,312.2 L544.5,312.2 L545.0,312.2 L545.5,312.6 L546.0,312.6 L546.5,312.6 L547.0,312.7 L547.5,312.9 L548.0,312.5 L548.5,312.6 L549.0,312.8 L549.5,312.6 L550.0,312.4 L550.5,312.8 L551.0,312.4 L551.5,313.2 L552.0,313.4 L552.5,313.2 L553.0,312.8 L553.5,312.9 L554.0,312.4 L554.5,312.8 L555.0,312.9 L555.5,312.7 L556.0,313.1 L556.5,312.5 L557.0,312.7 L557.5,313.0 L558.0,313.0 L558.5,313.1 L559.0,313.2 L559.5,313.1 L560.0,313.0 L560.5,313.2 L561.0,313.1 L561.5,312.9 L562.0,313.0 L562.5,313.3 L563.0,312.7 L563.5,313.0 L564.0,312.6 L564.5,312.4 L565.0,312.7 L565.5,312.9 L566.0,313.0 L566.5,313.6 L567.0,313.1 L567.5,313.0 L568.0,313.4 L568.5,313.6 L569.0,313.7 L569.5,314.0 L570.0,313.0 L570.5,313.7 L571.0,313.8 L571.5,313.8 L572.0,313.7 L572.5,313.6 L573.0,313.3 L573.5,312.7 L574.0,312.7 L574.5,313.1 L575.0,312.6 L575.5,312.7 L576.0,312.7 L576.5,312.4 L577.0,312.7 L577.5,313.0 L578.0,312.7 L578.5,313.1 L579.0,313.0 L579.5,313.0 L580.0,313.4 L580.5,313.3 L581.0,313.7 L581.5,314.2 L582.0,313.8 L582.5,313.7 L583.0,313.9 L583.5,313.5 L584.0,313.2 L584.5,314.1 L585.0,313.9 L585.5,313.9 L586.0,313.4 L586.5,313.4 L587.0,313.7 L587.5,313.4 L588.0,313.3 L588.5,313.0 L589.0,312.9 L589.5,313.3 L590.0,313.6 L590.5,313.3 L591.0,313.6 L591.5,313.4 L592.0,313.5 L592.5,313.2 L593.0,313.9 L593.5,313.5 L594.0,313.2 L594.5,313.6 L595.0,313.7 L595.5,313.6 L596.0,313.2 L596.5,313.4 L597.0,313.0 L597.5,312.9 L598.0,313.3 L598.5,313.2 L599.0,313.4 L599.5,314.0 L600.0,313.8 L600.5,313.7 L601.0,313.7 L601.5,313.4 L602.0,313.6 L602.5,314.2 L603.0,313.4 L603.5,313.5 L604.0,313.5 L604.5,313.5 L605.0,313.5 L605.5,313.1 L606.0,313.2 L606.5,314.3 L607.0,314.3 L607.5,314.2 L608.0,313.7 L608.5,313.5 L609.0,313.6 L609.5,314.1 L610.0,313.3 L610.5,313.1 L611.0,313.6 L611.5,313.8 L612.0,313.9 L612.5,314.1 L613.0,313.9 L613.5,313.8 L614.0,313.4 L614.5,314.2 L615.0,314.3 L615.5,313.7 L616.0,313.7 L616.5,313.8 L617.0,313.6 L617.5,314.0 L618.0,313.7 L618.5,313.9 L619.0,313.6 L619.5,313.6 L620.0,313.9 L620.5,314.2 L621.0,314.7 L621.5,313.7 L622.0,313.5 L622.5,313.5 L623.0,313.4 L623.5,313.4 L624.0,313.6 L624.5,314.0 L625.0,313.9 L625.5,314.0 L626.0,314.0 L626.5,314.6 L627.0,315.0 L627.5,315.0 L628.0,314.6 L628.5,314.8 L629.0,314.4 L629.5,314.5 L630.0,314.3 L630.5,314.1 L631.0,313.8 L631.5,313.9 L632.0,314.1 L632.5,314.6 L633.0,314.6 L633.5,314.6 L634.0,314.8 L634.5,314.8 L635.0,314.8 L635.5,315.3 L636.0,315.0 L636.5,314.5 L637.0,314.2 L637.5,314.4 L638.0,314.3 L638.5,313.9 L639.0,314.2 L639.5,314.6 L640.0,314.8 L640.5,314.5 L641.0,315.0 L641.5,315.3 L642.0,314.7 L642.5,314.8 L643.0,314.8 L643.5,314.6 L644.0,314.4 L644.5,314.9 L645.0,314.7 L645.5,314.5 L646.0,314.3 L646.5,314.4 L647.0,313.9 L647.5,314.1 L648.0,314.7 L648.5,314.6 L649.0,314.5" stroke="#ff7f0e"/>
<path d="M90.0,311.4 L90.5,311.2 L91.0,311.0 L91.5,310.6 L92.0,310.9 L92.5,311.1 L93.0,311.0 L93.5,310.9 L94.0,310.5 L94.5,311.3 L95.0,311.3 L95.5,311.0 L96.0,311.2 L96.5,311.2 L97.0,311.2 L97.5,311.0 L98.0,311.1 L98.5,311.2 L99.0,311.4 L99.5,311.4 L100.0,311.3 L100.5,311.4 L101.0,311.2 L101.5,310.6 L102.0,310.4 L102.5,311.0 L103.0,310.5 L103.5,310.5 L104.0,310.8 L104.5,311.2 L105.0,310.4 L105.5,310.4 L106.0,310.5 L106.5,310.5 L107.0,310.8 L107.5,311.1 L108.0,311.2 L108.5,311.9 L109.0,311.9 L109.5,311.0 L110.0,310.5 L110.5,310.7 L111.0,310.7 L111.5,311.2 L112.0,311.2 L112.5,311.3 L113.0,311.1 L113.5,311.1 L114.0,311.1 L114.5,311.0 L115.0,311.1 L115.5,310.6 L116.0,311.0 L116.5,311.2 L117.0,311.9 L117.5,311.3 L118.0,310.6 L118.5,310.6 L119.0,310.7 L119.5,310.5 L120.0,310.3 L120.5,310.5 L121.0,310.3 L121.5,310.9 L122.0,310.4 L122.5,310.8 L123.0,311.1 L123.5,311.1 L124.0,311.4 L124.5,311.2 L125.0,311.3 L125.5,310.8 L126.0,310.4 L126.5,310.5 L127.0,310.7 L127.5,311.1 L128.0,310.6 L128.5,310.5 L129.0,310.4 L129.5,310.9 L130.0,310.6 L130.5,311.1 L131.0,310.8 L131.5,310.6 L132.0,310.5 L132.5,310.1 L133.0,309.7 L133.5,310.1 L134.0,310.2 L134.5,311.2 L135.0,311.1 L135.5,311.2 L136.0,311.0 L136.5,310.8 L137.0,310.3 L137.5,310.2 L138.0,310.9 L138.5,310.7 L139.0,310.6 L139.5,310.9 L140.0,310.7 L140.5,310.6 L141.0,311.3 L141.5,311.1 L142.0,310.8 L142.5,310.6 L143.0,310.4 L143.5,310.7 L144.0,310.9 L144.5,310.6 L145.0,310.6 L145.5,310.2 L146.0,310.4 L146.5,310.7 L147.0,310.4 L147.5,310.5 L148.0,310.4 L148.5,310.4 L149.0,310.6 L149.5,310.3 L150.0,310.9 L150.5,311.1 L151.0,311.2 L151.5,310.6 L152.0,310.1 L152.5,310.2 L153.0,310.5 L153.5,310.5 L154.0,310.5 L154.5,310.6 L155.0,310.5 L155.5,310.8 L156.0,310.2 L156.5,310.6 L157.0,310.7 L157.5,310.5 L158.0,311.7 L158.5,311.2 L159.0,310.9 L159.5,310.4 L160.0,310.6 L160.5,310.6 L161.0,310.9 L161.5,310.6 L162.0,310.9 L162.5,310.3 L163.0,310.5 L163.5,310.0 L164.0,310.3 L164.5,310.7 L165.0,310.1 L165.5,310.6 L166.0,310.7 L166.5,310.1 L167.0,310.1 L167.5,310.2 L168.0,310.5 L168.5,310.9 L169.0,310.5 L169.5,310.2 L170.0,310.3 L170.5,309.6 L171.0,310.2 L171.5,310.3 L172.0,310.3 L172.5,310.8 L173.0,310.6 L173.5,310.3 L174.0,310.7 L174.5,310.4 L175.0,310.5 L175.5,310.4 L176.0,310.4 L176.5,310.5 L177.0,310.6 L177.5,310.2 L178.0,310.7 L178.5,310.5 L179.0,310.3 L179.5,310.6 L180.0,310.4 L180.5,310.6 L181.0,310.8 L181.5,310.9 L182.0,310.5 L182.5,310.8 L183.0,310.5 L183.5,310.2 L184.0,310.1 L184.5,310.4 L185.0,310.2 L185.5,310.7 L186.0,310.8 L186.5,310.7 L187.0,310.9 L187.5,310.9 L188.0,310.4 L188.5,311.1 L189.0,310.3 L189.5,310.4 L190.0,309.8 L190.5,310.0 L191.0,310.1 L191.5,309.8 L192.0,310.3 L192.5,310.4 L193.0,310.4 L193.5,310.0 L194.0,310.6 L194.5,310.4 L195.0,310.6 L195.5,310.0 L196.0,310.6 L196.5,310.3 L197.0,310.6 L197.5,310.3 L198.0,310.3 L198.5,310.5 L199.0,310.4 L199.5,311.0 L200.0,310.5 L200.5,310.3 L201.0,310.6 L201.5,310.5 L202.0,310.1 L202.5,310.1 L203.0,310.4 L203.5,310.3 L204.0,310.6 L204.5,310.0 L205.0,310.2 L205.5,309.9 L206.0,309.9 L206.5,309.8 L207.0,309.7 L207.5,310.6 L208.0,310.3 L208.5,310.4 L209.0,310.3 L209.5,310.7 L210.0,310.1 L210.5,309.6 L211.0,310.0 L211.5,309.7 L212.0,310.2 L212.5,309.8 L213.0,309.7 L213.5,310.0 L214.0,309.6 L214.5,309.6 L215.0,309.8 L215.5,309.4 L216.0,309.6 L216.5,309.2 L217.0,309.5 L217.5,310.1 L218.0,310.3 L218.5,309.9 L219.0,309.7 L219.5,309.4 L220.0,309.8 L220.5,309.9 L221.0,309.3 L221.5,309.2 L222.0,309.0 L222.5,309.4 L223.0,309.5 L223.5,309.5 L224.0,309.7 L224.5,309.7 L225.0,309.6 L225.5,309.7 L226.0,309.4 L226.5,309.6 L227.0,309.8 L227.5,308.9 L228.0,309.6 L228.5,309.4 L229.0,309.6 L229.5,309.4 L230.0,309.8 L230.5,309.5 L231.0,309.5 L231.5,309.2 L232.0,309.2 L232.5,309.3 L233.0,309.0 L233.5,309.0 L234.0,308.9 L234.5,309.1 L235.0,309.4 L235.5,309.3 L236.0,309.5 L236.5,309.1 L237.0,309.0 L237.5,308.9 L238.0,308.7 L238.5,309.0 L239.0,308.8 L239.5,308.6 L240.0,308.9 L240.5,308.7 L241.0,308.8 L241.5,308.8 L242.0,309.2 L242.5,309.4 L243.0,309.2 L243.5,308.8 L244.0,309.0 L244.5,309.6 L245.0,309.0 L245.5,308.8 L246.0,309.1 L246.5,308.9 L247.0,308.7 L247.5,309.0 L248.0,308.5 L248.5,308.9 L249.0,308.5 L249.5,308.7 L250.0,308.6 L250.5,308.3 L251.0,308.7 L251.5,308.2 L252.0,308.5 L252.5,308.5 L253.0,308.8 L253.5,308.2 L254.0,308.6 L254.5,309.1 L255.0,308.5 L255.5,308.5 L256.0,308.7 L256.5,309.6 L257.0,309.0 L257.5,308.4 L258.0,308.4 L258.5,308.3 L259.0,308.1 L259.5,307.8 L260.0,308.5 L260.5,307.9 L261.0,308.0 L261.5,307.5 L262.0,307.2 L262.5,307.9 L263.0,307.6 L263.5,308.1 L264.0,308.1 L264.5,307.8 L265.0,308.2 L265.5,307.7 L266.0,308.1 L266.5,308.4 L267.0,307.8 L267.5,307.9 L268.0,308.4 L268.5,308.2 L269.0,307.7 L269.5,308.1 L270.0,308.0 L270.5,308.0 L271.0,307.5 L271.5,307.8 L272.0,307.9 L272.5,307.5 L273.0,307.8 L273.5,307.7 L274.0,307.9 L274.5,308.1 L275.0,307.6 L275.5,307.2 L276.0,307.9 L276.5,307.9 L277.0,307.6 L277.5,307.9 L278.0,307.9 L278.5,307.8 L279.0,307.5 L279.5,307.4 L280.0,307.8 L280.5,307.6 L281.0,307.5 L281.5,307.6 L282.0,307.2 L282.5,307.3 L283.0,307.4 L283.5,308.2 L284.0,307.3 L284.5,307.3 L285.0,307.1 L285.5,306.7 L286.0,307.7 L286.5,308.0 L287.0,307.5 L287.5,307.3 L288.0,307.2 L288.5,307.2 L289.0,307.1 L289.5,307.2 L290.0,307.5 L290.5,307.5 L291.0,307.6 L291.5,306.9 L292.0,307.5 L292.5,307.1 L293.0,306.8 L293.5,306.7 L294.0,307.1 L294.5,307.0 L295.0,306.7 L295.5,306.8 L296.0,307.5 L296.5,307.3 L297.0,307.0 L297.5,306.7 L298.0,307.0 L298.5,306.6 L299.0,306.7 L299.5,306.4 L300.0,306.9 L300.5,306.6 L301.0,307.2 L301.5,307.3 L302.0,307.1 L302.5,307.4 L303.0,307.6 L303.5,307.0 L304.0,307.5 L304.5,307.4 L305.0,307.5 L305.5,307.1 L306.0,307.0 L306.5,307.3 L307.0,307.0 L307.5,306.9 L308.0,307.2 L308.5,306.7 L309.0,306.3 L309.5,307.0 L310.0,307.2 L310.5,307.6 L311.0,307.4 L311.5,306.9 L312.0,307.1 L312.5,307.1 L313.0,307.1 L313.5,306.8 L314.0,306.5 L314.5,306.2 L315.0,305.3 L315.5,305.0 L316.0,304.2 L316.5,303.7 L317.0,303.5 L317.5,302.8 L318.0,302.1 L318.5,301.8 L319.0,301.7 L319.5,301.5 L320.0,301.2 L320.5,301.1 L321.0,300.4 L321.5,300.5 L321.7,300.7 L322.0,300.6 L322.5,300.9 L323.0,300.9 L323.5,301.2 L324.0,301.9 L324.5,302.0 L325.0,303.0 L325.5,303.2 L326.0,303.4 L326.5,304.2 L327.0,304.1 L327.5,304.3 L327.8,304.4 L328.0,304.1 L328.5,304.0 L329.0,303.9 L329.5,303.8 L330.0,303.5 L330.5,303.6 L331.0,303.3 L331.5,302.5 L332.0,301.9 L332.5,301.4 L333.0,300.3 L333.5,299.2 L334.0,298.3 L334.5,297.0 L335.0,295.4 L335.5,293.9 L336.0,292.2 L336.5,290.8 L337.0,289.1 L337.5,287.5 L338.0,286.0 L338.5,284.8 L339.0,283.8 L339.5,283.1 L340.0,282.8 L340.2,282.8 L340.5,282.8 L341.0,283.1 L341.5,283.7 L342.0,284.5 L342.5,285.7 L343.0,287.0 L343.5,288.4 L344.0,289.9 L344.5,291.4 L345.0,292.9 L345.5,294.5 L346.0,295.7 L346.5,297.1 L347.0,298.1 L347.5,299.1 L348.0,300.1 L348.5,300.4 L349.0,300.5 L349.5,300.4 L350.0,299.7 L350.5,298.6 L351.0,296.9 L351.5,294.9 L352.0,292.4 L352.5,289.6 L353.0,286.7 L353.5,283.7 L354.0,280.4 L354.5,277.1 L355.0,274.0 L355.5,270.9 L356.0,268.0 L356.5,265.4 L357.0,263.1 L357.5,261.1 L358.0,259.6 L358.5,258.5 L359.0,257.9 L359.4,257.7 L359.5,257.7 L360.0,258.0 L360.5,258.8 L361.0,260.1 L361.5,261.7 L362.0,263.7 L362.5,266.0 L363.0,268.6 L363.5,271.5 L364.0,274.4 L364.5,277.5 L365.0,280.5 L365.5,283.4 L366.0,286.3 L366.5,288.9 L367.0,291.2 L367.5,293.3 L368.0,294.8 L368.5,296.1 L369.0,296.8 L369.5,297.1 L369.6,297.1 L370.0,288.2 L370.5,278.7 L371.0,270.7 L371.5,263.5 L372.0,257.0 L372.5,250.9 L373.0,245.1 L373.5,239.4 L374.0,234.0 L374.5,228.7 L375.0,223.7 L375.5,218.9 L376.0,214.5 L376.5,210.4 L377.0,206.8 L377.5,203.7 L378.0,201.2 L378.5,199.3 L379.0,198.1 L379.5,197.5 L379.7,197.4 L380.0,197.5 L380.5,198.0 L381.0,199.0 L381.5,200.5 L382.0,202.5 L382.5,204.9 L383.0,207.8 L383.5,211.2 L384.0,215.1 L384.5,219.5 L385.0,224.3 L385.5,229.6 L386.0,235.4 L386.5,241.6 L387.0,248.3 L387.5,255.5 L388.0,263.0 L388.5,270.8 L389.0,278.7 L389.5,286.4 L389.7,289.4 L390.0,284.8 L390.5,276.0 L391.0,266.7 L391.5,257.3 L392.0,248.0 L392.5,239.1 L393.0,230.7 L393.5,222.7 L394.0,215.2 L394.5,208.3 L395.0,201.9 L395.5,196.1 L396.0,190.9 L396.5,186.3 L397.0,182.3 L397.5,178.8 L398.0,176.0 L398.5,173.7 L399.0,172.0 L399.5,170.9 L400.0,170.3 L400.2,170.3 L400.5,170.4 L401.0,171.0 L401.5,172.0 L402.0,173.6 L402.5,175.7 L403.0,178.3 L403.5,181.4 L404.0,185.0 L404.5,189.1 L405.0,193.7 L405.5,198.8 L406.0,204.3 L406.5,210.3 L407.0,216.7 L407.5,223.4 L408.0,230.4 L408.5,237.4 L409.0,244.4 L409.5,251.0 L410.0,256.9 L410.5,261.8 L410.7,263.3 L411.0,251.8 L411.5,235.8 L412.0,223.2 L412.5,213.1 L413.0,204.9 L413.5,198.1 L414.0,192.3 L414.5,187.4 L415.0,183.0 L415.5,179.2 L416.0,175.8 L416.5,172.8 L417.0,170.2 L417.5,167.9 L418.0,166.0 L418.5,164.4 L419.0,163.1 L419.5,162.2 L420.0,161.6 L420.5,161.4 L420.6,161.4 L421.0,161.5 L421.5,162.0 L422.0,162.8 L422.5,164.0 L423.0,165.6 L423.5,167.6 L424.0,169.9 L424.5,172.6 L425.0,175.6 L425.5,179.1 L426.0,183.0 L426.5,187.4 L427.0,192.3 L427.5,197.9 L428.0,204.3 L428.5,211.9 L429.0,220.8 L429.5,231.7 L430.0,245.1 L430.5,261.7 L431.0,281.7 L431.5,259.9 L432.0,242.6 L432.5,229.3 L433.0,218.8 L433.5,210.3 L434.0,203.3 L434.5,197.4 L435.0,192.2 L435.5,187.8 L436.0,183.9 L436.5,180.6 L437.0,177.8 L437.5,175.5 L438.0,173.6 L438.5,172.3 L439.0,171.5 L439.5,171.1 L439.6,171.1 L440.0,171.2 L440.5,171.7 L441.0,172.6 L441.5,173.8 L442.0,175.4 L442.5,177.3 L443.0,179.7 L443.5,182.4 L444.0,185.5 L444.5,189.1 L445.0,193.1 L445.5,197.7 L446.0,202.9 L446.5,209.1 L447.0,216.3 L447.5,225.2 L448.0,236.1 L448.5,249.9 L449.0,267.3 L449.2,275.4 L449.5,262.2 L450.0,244.2 L450.5,230.7 L451.0,220.2 L451.5,211.9 L452.0,205.2 L452.5,199.5 L453.0,194.7 L453.5,190.5 L454.0,186.9 L454.5,183.9 L455.0,181.4 L455.5,179.3 L456.0,177.8 L456.5,176.7 L457.0,176.2 L457.3,176.1 L457.5,176.2 L458.0,176.8 L458.5,178.0 L459.0,180.0 L459.5,182.6 L460.0,185.9 L460.5,189.8 L461.0,194.4 L461.5,199.7 L462.0,205.6 L462.5,212.3 L463.0,219.5 L463.5,227.5 L464.0,236.1 L464.5,245.2 L465.0,255.0 L465.5,265.1 L466.0,275.0 L466.5,284.1 L467.0,291.1 L467.5,296.2 L468.0,299.1 L468.5,300.9 L469.0,301.6 L469.5,302.6 L470.0,302.9 L470.5,303.9 L471.0,304.7 L471.5,305.5 L472.0,305.6 L472.5,305.6 L473.0,305.5 L473.5,305.8 L474.0,306.3 L474.5,306.7 L475.0,307.0 L475.5,306.9 L476.0,306.7 L476.5,306.5 L477.0,307.2 L477.5,307.3 L478.0,307.3 L478.5,307.7 L479.0,308.4 L479.5,308.0 L480.0,307.9 L480.5,307.8 L481.0,308.1 L481.5,307.8 L482.0,307.7 L482.5,308.2 L483.0,308.2 L483.5,308.4 L484.0,308.7 L484.5,308.7 L485.0,309.2 L485.5,308.8 L486.0,308.6 L486.5,308.8 L487.0,308.8 L487.5,309.0 L488.0,309.3 L488.5,309.1 L489.0,308.7 L489.5,308.6 L490.0,309.4 L490.5,309.3 L491.0,310.0 L491.5,309.8 L492.0,309.5 L492.5,309.3 L493.0,309.0 L493.5,309.3 L494.0,309.7 L494.5,309.9 L495.0,309.9 L495.5,309.8 L496.0,309.5 L496.5,309.7 L497.0,309.4 L497.5,309.5 L498.0,309.4 L498.5,309.3 L499.0,309.3 L499.5,309.4 L500.0,309.6 L500.5,309.9 L501.0,310.0 L501.5,309.6 L502.0,309.6 L502.5,310.2 L503.0,310.3 L503.5,310.3 L504.0,310.2 L504.5,310.3 L505.0,310.0 L505.5,309.6 L506.0,310.1 L506.5,309.8 L507.0,310.0 L507.5,310.5 L508.0,310.2 L508.5,309.8 L509.0,310.0 L509.5,309.6 L510.0,309.6 L510.5,309.8 L511.0,310.1 L511.5,310.7 L512.0,310.8 L512.5,311.0 L513.0,310.6 L513.5,310.0 L514.0,309.9 L514.5,310.1 L515.0,310.1 L515.5,310.1 L516.0,310.5 L516.5,310.5 L517.0,310.8 L517.5,311.0 L518.0,310.4 L518.5,310.2 L519.0,310.6 L519.5,310.8 L520.0,310.4 L520.5,310.3 L521.0,310.8 L521.5,310.9 L522.0,311.1 L522.5,310.5 L523.0,310.7 L523.5,310.6 L524.0,310.4 L524.5,310.3 L525.0,310.4 L525.5,310.3 L526.0,310.6 L526.5,311.1 L527.0,310.7 L527.5,310.7 L528.0,310.8 L528.5,310.8 L529.0,311.0 L529.5,310.4 L530.0,310.0 L530.5,310.2 L531.0,310.4 L531.5,310.9 L532.0,310.9 L532.5,310.6 L533.0,310.1 L533.5,310.5 L534.0,310.7 L534.5,311.0 L535.0,311.0 L535.5,310.9 L536.0,310.6 L536.5,310.7 L537.0,310.9 L537.5,310.6 L538.0,310.7 L538.5,310.5 L539.0,310.4 L539.5,310.5 L540.0,310.5 L540.5,310.3 L541.0,310.5 L541.5,310.6 L542.0,310.5 L542.5,310.8 L543.0,311.0 L543.5,310.5 L544.0,310.2 L544.5,310.2 L545.0,310.5 L545.5,310.0 L546.0,310.5 L546.5,310.7 L547.0,310.9 L547.5,310.8 L548.0,311.1 L548.5,311.1 L549.0,311.3 L549.5,310.8 L550.0,310.1 L550.5,310.7 L551.0,310.9 L551.5,311.0 L552.0,311.5 L552.5,311.2 L553.0,311.3 L553.5,311.0 L554.0,311.0 L554.5,311.0 L555.0,311.0 L555.5,311.0 L556.0,311.6 L556.5,310.9 L557.0,311.0 L557.5,311.0 L558.0,311.3 L558.5,311.4 L559.0,310.9 L559.5,310.9 L560.0,311.4 L560.5,311.4 L561.0,310.8 L561.5,311.1 L562.0,311.8 L562.5,311.3 L563.0,311.4 L563.5,311.9 L564.0,312.0 L564.5,311.2 L565.0,311.1 L565.5,311.3 L566.0,311.2 L566.5,311.2 L567.0,311.4 L567.5,311.3 L568.0,311.3 L568.5,311.6 L569.0,311.3 L569.5,311.6 L570.0,310.9 L570.5,311.4 L571.0,311.3 L571.5,311.0 L572.0,310.9 L572.5,311.4 L573.0,311.3 L573.5,311.1 L574.0,310.8 L574.5,311.1 L575.0,311.2 L575.5,311.4 L576.0,311.4 L576.5,311.2 L577.0,311.5 L577.5,310.9 L578.0,311.5 L578.5,312.1 L579.0,311.6 L579.5,311.6 L580.0,311.5 L580.5,311.2 L581.0,311.2 L581.5,311.2 L582.0,311.2 L582.5,311.4 L583.0,311.4 L583.5,311.8 L584.0,311.1 L584.5,311.0 L585.0,311.4 L585.5,312.1 L586.0,312.0 L586.5,311.9 L587.0,311.6 L587.5,311.5 L588.0,311.6 L588.5,312.1 L589.0,311.8 L589.5,312.0 L590.0,311.6 L590.5,311.7 L591.0,311.5 L591.5,311.3 L592.0,311.6 L592.5,311.9 L593.0,311.6 L593.5,312.0 L594.0,311.9 L594.5,311.9 L595.0,312.1 L595.5,312.1 L596.0,312.5 L596.5,311.9 L597.0,312.0 L597.5,311.8 L598.0,312.2 L598.5,311.6 L599.0,311.8 L599.5,311.9 L600.0,311.4 L600.5,311.4 L601.0,312.0 L601.5,312.2 L602.0,311.6 L602.5,312.0 L603.0,312.3 L603.5,311.8 L604.0,312.2 L604.5,312.1 L605.0,312.4 L605.5,311.8 L606.0,311.8 L606.5,311.8 L607.0,311.7 L607.5,311.9 L608.0,312.1 L608.5,311.7 L609.0,311.4 L609.5,311.9 L610.0,312.3 L610.5,312.5 L611.0,312.8 L611.5,312.1 L612.0,311.5 L612.5,311.6 L613.0,311.9 L613.5,311.8 L614.0,312.0 L614.5,311.8 L615.0,312.4 L615.5,312.1 L616.0,312.1 L616.5,311.9 L617.0,312.6 L617.5,311.9 L618.0,311.7 L618.5,312.0 L619.0,312.1 L619.5,312.0 L620.0,312.6 L620.5,312.2 L621.0,312.5 L621.5,312.4 L622.0,312.1 L622.5,312.4 L623.0,312.4 L623.5,312.1 L624.0,312.5 L624.5,312.6 L625.0,312.5 L625.5,312.2 L626.0,311.9 L626.5,311.8 L627.0,311.9 L627.5,311.7 L628.0,312.5 L628.5,312.8 L629.0,313.0 L629.5,312.6 L630.0,312.0 L630.5,312.5 L631.0,312.5 L631.5,312.3 L632.0,312.7 L632.5,312.7 L633.0,312.9 L633.5,312.4 L634.0,312.5 L634.5,312.6 L635.0,312.4 L635.5,312.4 L636.0,312.0 L636.5,311.9 L637.0,312.7 L637.5,312.7 L638.0,312.6 L638.5,312.5 L639.0,313.0 L639.5,313.0 L640.0,312.4 L640.5,312.3 L641.0,312.1 L641.5,311.8 L642.0,312.2 L642.5,312.9 L643.0,313.0 L643.5,312.5 L644.0,312.5 L644.5,312.8 L645.0,312.8 L645.5,312.7 L646.0,312.3 L646.5,312.2 L647.0,312.5 L647.5,313.0 L648.0,312.9 L648.5,313.3 L649.0,313.0" stroke="#d62728"/>
<path d="M90.0,314.2 L90.5,313.7 L91.0,313.6 L91.5,313.4 L92.0,313.3 L92.5,313.9 L93.0,313.7 L93.5,313.6 L94.0,313.9 L94.5,314.3 L95.0,314.2 L95.5,314.1 L96.0,313.6 L96.5,314.0 L97.0,314.0 L97.5,313.4 L98.0,313.3 L98.5,313.6 L99.0,313.3 L99.5,313.1 L100.0,313.1 L100.5,313.5 L101.0,313.3 L101.5,313.4 L102.0,313.6 L102.5,313.9 L103.0,314.0 L103.5,314.0 L104.0,313.9 L104.5,313.1 L105.0,313.3 L105.5,313.7 L106.0,313.8 L106.5,313.5 L107.0,313.7 L107.5,313.6 L108.0,313.6 L108.5,313.4 L109.0,313.2 L109.5,312.9 L110.0,312.8 L110.5,313.0 L111.0,314.1 L111.5,313.2 L112.0,313.5 L112.5,313.8 L113.0,313.9 L113.5,313.7 L114.0,313.7 L114.5,313.7 L115.0,313.4 L115.5,313.3 L116.0,313.4 L116.5,313.4 L117.0,313.5 L117.5,313.2 L118.0,313.7 L118.5,313.7 L119.0,313.4 L119.5,313.0 L120.0,312.9 L120.5,313.0 L121.0,313.2 L121.5,313.0 L122.0,313.5 L122.5,313.0 L123.0,313.6 L123.5,313.0 L124.0,313.4 L124.5,313.1 L125.0,312.7 L125.5,313.0 L126.0,313.1 L126.5,313.2 L127.0,313.4 L127.5,313.3 L128.0,313.0 L128.5,313.2 L129.0,313.6 L129.5,313.7 L130.0,313.0 L130.5,312.9 L131.0,312.9 L131.5,313.0 L132.0,312.4 L132.5,312.6 L133.0,312.6 L133.5,312.5 L134.0,313.4 L134.5,313.4 L135.0,313.4 L135.5,313.5 L136.0,313.3 L136.5,313.4 L137.0,313.5 L137.5,313.5 L138.0,313.4 L138.5,313.5 L139.0,313.4 L139.5,313.2 L140.0,313.2 L140.5,313.3 L141.0,313.1 L141.5,313.1 L142.0,313.0 L142.5,313.1 L143.0,313.3 L143.5,313.6 L144.0,313.9 L144.5,313.8 L145.0,313.2 L145.5,313.1 L146.0,312.4 L146.5,312.6 L147.0,312.6 L147.5,312.9 L148.0,313.1 L148.5,313.4 L149.0,313.4 L149.5,312.8 L150.0,312.9 L150.5,313.7 L151.0,313.6 L151.5,313.6 L152.0,313.4 L152.5,312.6 L153.0,312.9 L153.5,313.0 L154.0,312.8 L154.5,312.9 L155.0,313.3 L155.5,313.2 L156.0,313.2 L156.5,313.1 L157.0,313.2 L157.5,313.3 L158.0,313.3 L158.5,312.9 L159.0,312.8 L159.5,312.6 L160.0,313.2 L160.5,313.1 L161.0,313.5 L161.5,313.6 L162.0,313.0 L162.5,313.1 L163.0,313.3 L163.5,312.6 L164.0,313.0 L164.5,313.1 L165.0,313.0 L165.5,313.2 L166.0,312.8 L166.5,313.1 L167.0,313.5 L167.5,313.2 L168.0,313.5 L168.5,313.1 L169.0,313.1 L169.5,313.4 L170.0,313.4 L170.5,313.5 L171.0,313.7 L171.5,313.8 L172.0,313.2 L172.5,313.7 L173.0,313.3 L173.5,313.3 L174.0,313.2 L174.5,313.6 L175.0,313.5 L175.5,312.8 L176.0,312.7 L176.5,312.8 L177.0,312.9 L177.5,313.0 L178.0,313.1 L178.5,313.0 L179.0,313.0 L179.5,312.9 L180.0,312.9 L180.5,313.3 L181.0,313.1 L181.5,313.1 L182.0,313.2 L182.5,312.9 L183.0,313.4 L183.5,313.1 L184.0,313.4 L184.5,313.1 L185.0,313.3 L185.5,313.1 L186.0,312.8 L186.5,312.7 L187.0,312.4 L187.5,312.9 L188.0,312.6 L188.5,312.3 L189.0,313.0 L189.5,312.8 L190.0,313.0 L190.5,312.9 L191.0,312.4 L191.5,312.6 L192.0,313.1 L192.5,312.8 L193.0,312.2 L193.5,312.8 L194.0,312.7 L194.5,312.8 L195.0,312.6 L195.5,312.8 L196.0,312.5 L196.5,312.2 L197.0,312.8 L197.5,312.9 L198.0,313.3 L198.5,312.7 L199.0,312.8 L199.5,312.5 L200.0,313.2 L200.5,312.8 L201.0,312.9 L201.5,312.5 L202.0,312.5 L202.5,312.5 L203.0,312.6 L203.5,312.7 L204.0,313.0 L204.5,312.9 L205.0,313.1 L205.5,312.7 L206.0,312.7 L206.5,312.2 L207.0,312.6 L207.5,312.5 L208.0,311.8 L208.5,312.2 L209.0,312.1 L209.5,312.7 L210.0,312.4 L210.5,312.5 L211.0,312.5 L211.5,312.7 L212.0,313.1 L212.5,312.8 L213.0,312.4 L213.5,312.5 L214.0,312.4 L214.5,312.3 L215.0,312.3 L215.5,311.9 L216.0,312.4 L216.5,312.4 L217.0,312.4 L217.5,312.3 L218.0,312.2 L218.5,312.3 L219.0,312.0 L219.5,312.0 L220.0,312.2 L220.5,311.9 L221.0,312.1 L221.5,312.0 L222.0,312.0 L222.5,312.1 L223.0,312.2 L223.5,312.1 L224.0,311.7 L224.5,311.6 L225.0,311.8 L225.5,311.6 L226.0,311.1 L226.5,311.0 L227.0,311.4 L227.5,311.8 L228.0,312.1 L228.5,312.7 L229.0,311.9 L229.5,311.6 L230.0,311.5 L230.5,311.6 L231.0,311.7 L231.5,312.2 L232.0,311.9 L232.5,312.1 L233.0,312.0 L233.5,311.7 L234.0,311.1 L234.5,311.5 L235.0,311.5 L235.5,311.0 L236.0,311.6 L236.5,311.3 L237.0,311.5 L237.5,311.8 L238.0,311.8 L238.5,311.5 L239.0,311.4 L239.5,311.6 L240.0,311.6 L240.5,311.4 L241.0,311.6 L241.5,311.8 L242.0,311.5 L242.5,311.1 L243.0,311.2 L243.5,310.8 L244.0,310.9 L244.5,311.2 L245.0,311.0 L245.5,310.7 L246.0,311.4 L246.5,311.2 L247.0,311.3 L247.5,311.3 L248.0,311.0 L248.5,311.5 L249.0,311.2 L249.5,311.3 L250.0,311.3 L250.5,311.3 L251.0,310.7 L251.5,310.9 L252.0,311.0 L252.5,310.9 L253.0,310.1 L253.5,310.3 L254.0,310.5 L254.5,310.8 L255.0,310.5 L255.5,310.2 L256.0,310.7 L256.5,310.8 L257.0,310.7 L257.5,311.0 L258.0,311.0 L258.5,310.9 L259.0,310.2 L259.5,310.8 L260.0,310.5 L260.5,310.5 L261.0,310.8 L261.5,310.7 L262.0,310.7 L262.5,310.8 L263.0,311.3 L263.5,311.0 L264.0,309.9 L264.5,310.1 L265.0,310.2 L265.5,310.3 L266.0,310.2 L266.5,310.6 L267.0,310.6 L267.5,310.6 L268.0,310.3 L268.5,309.8 L269.0,310.3 L269.5,310.2 L270.0,310.1 L270.5,310.1 L271.0,310.6 L271.5,309.9 L272.0,310.3 L272.5,310.3 L273.0,310.8 L273.5,309.9 L274.0,310.1 L274.5,310.1 L275.0,309.7 L275.5,309.6 L276.0,309.6 L276.5,309.7 L277.0,309.9 L277.5,309.9 L278.0,309.3 L278.5,309.3 L279.0,309.4 L279.5,309.7 L280.0,310.3 L280.5,310.6 L281.0,309.9 L281.5,309.2 L282.0,310.1 L282.5,309.9 L283.0,310.2 L283.5,309.6 L284.0,309.7 L284.5,309.5 L285.0,309.4 L285.5,309.2 L286.0,309.4 L286.5,310.1 L287.0,309.7 L287.5,309.5 L288.0,309.0 L288.5,309.7 L289.0,309.7 L289.5,309.7 L290.0,309.5 L290.5,309.6 L291.0,310.0 L291.5,309.2 L292.0,309.2 L292.5,309.6 L293.0,309.2 L293.5,308.9 L294.0,308.8 L294.5,308.7 L295.0,308.9 L295.5,309.5 L296.0,309.3 L296.5,308.9 L297.0,309.0 L297.5,309.4 L298.0,309.6 L298.5,309.1 L299.0,309.0 L299.5,309.1 L300.0,309.1 L300.5,309.3 L301.0,309.3 L301.5,309.4 L302.0,309.4 L302.5,309.8 L303.0,309.0 L303.5,308.9 L304.0,308.9 L304.5,309.0 L305.0,308.8 L305.5,309.6 L306.0,309.6 L306.5,309.5 L307.0,309.2 L307.5,309.3 L308.0,309.2 L308.5,309.3 L309.0,308.8 L309.5,308.6 L310.0,308.3 L310.5,308.8 L311.0,308.6 L311.5,308.2 L312.0,308.0 L312.5,307.8 L313.0,307.0 L313.5,306.8 L314.0,306.3 L314.5,305.4 L315.0,304.8 L315.5,304.7 L316.0,304.2 L316.5,303.8 L317.0,303.6 L317.5,303.5 L318.0,303.8 L318.5,303.6 L319.0,303.8 L319.5,303.5 L320.0,303.8 L320.5,304.2 L321.0,304.3 L321.5,304.5 L322.0,305.0 L322.5,305.0 L323.0,305.1 L323.5,305.4 L324.0,305.9 L324.5,306.5 L325.0,306.6 L325.5,306.8 L326.0,306.9 L326.5,307.1 L327.0,307.4 L327.5,307.1 L328.0,307.0 L328.5,306.4 L329.0,306.2 L329.5,306.1 L330.0,305.8 L330.5,304.7 L331.0,303.6 L331.5,302.4 L332.0,301.3 L332.5,299.8 L333.0,298.3 L333.5,296.4 L334.0,294.7 L334.5,292.7 L335.0,291.1 L335.5,289.7 L336.0,288.3 L336.5,287.4 L337.0,286.8 L337.5,286.5 L338.0,286.6 L338.5,287.1 L339.0,287.7 L339.5,288.5 L340.0,289.5 L340.5,290.7 L341.0,291.9 L341.5,293.3 L342.0,294.8 L342.5,296.1 L343.0,297.7 L343.5,298.9 L344.0,300.4 L344.5,301.3 L345.0,302.1 L345.5,302.9 L346.0,303.6 L346.5,304.2 L346.8,304.1 L347.0,304.1 L347.5,303.3 L348.0,302.4 L348.5,301.4 L349.0,300.0 L349.5,298.2 L350.0,296.0 L350.5,293.5 L351.0,290.9 L351.5,288.2 L352.0,285.4 L352.5,282.4 L353.0,279.5 L353.5,276.6 L354.0,273.8 L354.5,271.3 L355.0,269.0 L355.5,266.9 L356.0,265.2 L356.5,263.8 L357.0,262.8 L357.5,262.2 L358.0,262.0 L358.5,262.3 L359.0,263.3 L359.5,264.9 L360.0,267.0 L360.5,269.6 L361.0,272.5 L361.5,275.8 L362.0,279.3 L362.5,282.7 L363.0,286.2 L363.5,289.5 L364.0,292.5 L364.5,295.3 L365.0,297.4 L365.5,298.8 L366.0,299.7 L366.5,299.8 L367.0,292.3 L367.5,285.6 L368.0,279.8 L368.5,274.6 L369.0,269.7 L369.5,265.2 L370.0,261.0 L370.5,256.9 L371.0,252.9 L371.5,249.1 L372.0,245.3 L372.5,241.6 L373.0,238.0 L373.5,234.6 L374.0,231.3 L374.5,228.1 L375.0,225.1 L375.5,222.4 L376.0,219.8 L376.5,217.5 L377.0,215.5 L377.5,213.8 L378.0,212.4 L378.5,211.4 L379.0,210.6 L379.5,210.3 L379.8,210.2 L380.0,210.2 L380.5,210.6 L381.0,211.4 L381.5,212.5 L382.0,214.1 L382.5,216.1 L383.0,218.6 L383.5,221.6 L384.0,225.5 L384.5,230.6 L385.0,237.8 L385.5,248.5 L386.0,264.6 L386.5,288.1 L387.0,268.2 L387.5,251.8 L388.0,238.9 L388.5,228.7 L389.0,220.4 L389.5,213.5 L390.0,207.6 L390.5,202.6 L391.0,198.1 L391.5,194.3 L392.0,190.9 L392.5,188.0 L393.0,185.6 L393.5,183.6 L394.0,182.0 L394.5,180.9 L395.0,180.2 L395.5,180.0 L396.0,180.1 L396.5,180.4 L397.0,180.9 L397.5,181.6 L398.0,182.5 L398.5,183.6 L399.0,185.0 L399.5,186.5 L400.0,188.2 L400.5,190.1 L401.0,192.3 L401.5,194.7 L402.0,197.4 L402.5,200.4 L403.0,203.7 L403.5,207.5 L404.0,211.8 L404.5,216.8 L405.0,222.7 L405.5,229.8 L406.0,238.4 L406.5,249.0 L407.0,262.0 L407.5,244.0 L408.0,229.9 L408.5,218.9 L409.0,210.1 L409.5,202.9 L410.0,196.9 L410.5,191.8 L411.0,187.4 L411.5,183.5 L412.0,180.1 L412.5,177.1 L413.0,174.5 L413.5,172.2 L414.0,170.3 L414.5,168.8 L415.0,167.6 L415.5,166.7 L416.0,166.2 L416.5,166.0 L417.0,166.1 L417.5,166.6 L418.0,167.3 L418.5,168.4 L419.0,169.7 L419.5,171.3 L420.0,173.3 L420.5,175.5 L421.0,178.0 L421.5,180.9 L422.0,184.1 L422.5,187.7 L423.0,191.8 L423.5,196.4 L424.0,201.7 L424.5,207.9 L425.0,215.2 L425.5,224.2 L426.0,235.1 L426.5,248.9 L427.0,266.0 L427.5,243.1 L428.0,226.7 L428.5,214.7 L429.0,205.5 L429.5,198.3 L430.0,192.4 L430.5,187.5 L431.0,183.3 L431.5,179.8 L432.0,177.0 L432.5,174.8 L433.0,173.3 L433.5,172.3 L434.0,172.0 L434.5,172.2 L435.0,172.6 L435.5,173.4 L436.0,174.5 L436.5,175.9 L437.0,177.6 L437.5,179.7 L438.0,182.0 L438.5,184.7 L439.0,187.8 L439.5,191.2 L440.0,195.1 L440.5,199.6 L441.0,204.7 L441.5,210.6 L442.0,217.8 L442.5,226.5 L443.0,237.3 L443.5,250.8 L444.0,268.0 L444.5,255.1 L445.0,245.1 L445.5,237.4 L446.0,231.2 L446.5,226.2 L447.0,222.1 L447.5,218.6 L448.0,215.5 L448.5,212.9 L449.0,210.6 L449.5,208.5 L450.0,206.8 L450.5,205.3 L451.0,204.1 L451.5,203.2 L452.0,202.5 L452.5,202.1 L453.0,202.0 L453.5,202.4 L454.0,203.4 L454.5,205.2 L455.0,207.6 L455.5,210.8 L456.0,214.6 L456.5,219.2 L457.0,224.4 L457.5,230.4 L458.0,237.0 L458.5,244.3 L459.0,252.3 L459.5,260.8 L460.0,269.7 L460.5,278.7 L461.0,286.7 L461.5,293.6 L462.0,298.4 L462.5,302.0 L463.0,303.8 L463.5,304.6 L464.0,305.6 L464.5,306.2 L465.0,306.9 L465.5,307.4 L466.0,307.7 L466.5,308.2 L467.0,308.5 L467.5,308.8 L468.0,308.8 L468.5,309.1 L469.0,309.7 L469.5,309.8 L470.0,310.4 L470.5,310.6 L471.0,310.8 L471.5,310.7 L472.0,310.5 L472.5,310.8 L473.0,310.7 L473.5,310.8 L474.0,310.6 L474.5,310.9 L475.0,310.8 L475.5,310.7 L476.0,311.6 L476.5,311.7 L477.0,311.4 L477.5,311.7 L478.0,312.0 L478.5,312.0 L479.0,311.7 L479.5,312.3 L480.0,311.7 L480.5,311.5 L481.0,311.8 L481.5,312.2 L482.0,312.1 L482.5,312.2 L483.0,312.5 L483.5,312.6 L484.0,313.0 L484.5,312.6 L485.0,312.5 L485.5,312.5 L486.0,312.6 L486.5,312.7 L487.0,312.9 L487.5,312.6 L488.0,312.6 L488.5,313.3 L489.0,312.6 L489.5,312.6 L490.0,312.8 L490.5,312.8 L491.0,312.8 L491.5,313.1 L492.0,312.6 L492.5,312.9 L493.0,312.6 L493.5,312.6 L494.0,313.0 L494.5,313.0 L495.0,313.2 L495.5,313.1 L496.0,313.1 L496.5,312.8 L497.0,312.8 L497.5,312.9 L498.0,313.0 L498.5,312.8 L499.0,313.1 L499.5,312.6 L500.0,312.9 L500.5,313.5 L501.0,313.6 L501.5,313.4 L502.0,313.6 L502.5,313.6 L503.0,313.3 L503.5,313.5 L504.0,313.5 L504.5,313.4 L505.0,313.4 L505.5,313.6 L506.0,313.5 L506.5,313.6 L507.0,313.4 L507.5,313.7 L508.0,313.3 L508.5,312.6 L509.0,312.9 L509.5,313.2 L510.0,313.6 L510.5,313.2 L511.0,313.9 L511.5,313.5 L512.0,313.9 L512.5,313.8 L513.0,313.3 L513.5,313.7 L514.0,313.6 L514.5,313.6 L515.0,313.2 L515.5,313.4 L516.0,313.7 L516.5,313.5 L517.0,313.2 L517.5,313.2 L518.0,313.0 L518.5,313.4 L519.0,313.4 L519.5,313.2 L520.0,313.3 L520.5,313.6 L521.0,314.0 L521.5,313.9 L522.0,313.5 L522.5,313.7 L523.0,313.7 L523.5,313.4 L524.0,313.4 L524.5,313.9 L525.0,314.1 L525.5,313.7 L526.0,314.0 L526.5,314.2 L527.0,314.4 L527.5,313.8 L528.0,313.3 L528.5,313.3 L529.0,313.1 L529.5,313.2 L530.0,313.9 L530.5,314.1 L531.0,313.9 L531.5,314.2 L532.0,313.7 L532.5,314.0 L533.0,314.2 L533.5,314.1 L534.0,314.3 L534.5,314.3 L535.0,314.2 L535.5,314.1 L536.0,314.3 L536.5,313.9 L537.0,314.0 L537.5,314.2 L538.0,314.5 L538.5,314.0 L539.0,314.0 L539.5,313.8 L540.0,313.8 L540.5,314.2 L541.0,313.7 L541.5,314.0 L542.0,313.5 L542.5,313.6 L543.0,313.8 L543.5,314.2 L544.0,314.5 L544.5,314.0 L545.0,313.9 L545.5,313.8 L546.0,313.8 L546.5,314.0 L547.0,314.2 L547.5,314.1 L548.0,313.8 L548.5,313.9 L549.0,314.0 L549.5,314.1 L550.0,313.8 L550.5,313.5 L551.0,313.9 L551.5,313.9 L552.0,314.0 L552.5,313.9 L553.0,313.8 L553.5,313.8 L554.0,314.2 L554.5,314.2 L555.0,314.6 L555.5,314.3 L556.0,314.7 L556.5,314.4 L557.0,314.5 L557.5,314.4 L558.0,314.4 L558.5,314.6 L559.0,314.0 L559.5,314.1 L560.0,314.6 L560.5,314.8 L561.0,314.2 L561.5,314.0 L562.0,314.3 L562.5,314.6 L563.0,314.4 L563.5,314.4 L564.0,314.5 L564.5,314.6 L565.0,315.0 L565.5,314.1 L566.0,314.1 L566.5,313.8 L567.0,314.3 L567.5,314.2 L568.0,314.5 L568.5,314.2 L569.0,314.5 L569.5,314.2 L570.0,314.8 L570.5,314.9 L571.0,315.1 L571.5,314.3 L572.0,314.8 L572.5,315.0 L573.0,314.6 L573.5,314.6 L574.0,314.7 L574.5,314.3 L575.0,314.2 L575.5,314.8 L576.0,314.6 L576.5,314.6 L577.0,314.1 L577.5,314.3 L578.0,314.2 L578.5,314.3 L579.0,314.8 L579.5,314.8 L580.0,314.8 L580.5,315.2 L581.0,315.0 L581.5,315.3 L582.0,315.2 L582.5,315.2 L583.0,314.8 L583.5,314.9 L584.0,315.4 L584.5,314.9 L585.0,314.9 L585.5,314.9 L586.0,314.4 L586.5,314.7 L587.0,314.7 L587.5,314.5 L588.0,314.8 L588.5,314.8 L589.0,315.2 L589.5,315.1 L590.0,315.2 L590.5,315.7 L591.0,315.3 L591.5,314.5 L592.0,314.8 L592.5,314.9 L593.0,315.0 L593.5,315.1 L594.0,315.0 L594.5,315.1 L595.0,314.8 L595.5,314.6 L596.0,314.9 L596.5,315.2 L597.0,315.7 L597.5,315.6 L598.0,315.4 L598.5,315.8 L599.0,315.2 L599.5,314.9 L600.0,315.0 L600.5,314.9 L601.0,315.1 L601.5,314.7 L602.0,314.4 L602.5,314.8 L603.0,315.2 L603.5,314.9 L604.0,314.4 L604.5,315.1 L605.0,315.2 L605.5,315.4 L606.0,315.0 L606.5,315.3 L607.0,314.9 L607.5,314.9 L608.0,315.2 L608.5,315.1 L609.0,314.8 L609.5,315.3 L610.0,315.8 L610.5,315.9 L611.0,315.4 L611.5,315.9 L612.0,315.2 L612.5,316.1 L613.0,315.3 L613.5,315.7 L614.0,315.6 L614.5,315.4 L615.0,315.2 L615.5,315.2 L616.0,314.8 L616.5,314.9 L617.0,315.3 L617.5,315.4 L618.0,315.3 L618.5,315.3 L619.0,315.3 L619.5,315.2 L620.0,315.4 L620.5,315.6 L621.0,315.1 L621.5,314.6 L622.0,315.2 L622.5,315.1 L623.0,314.8 L623.5,314.7 L624.0,314.7 L624.5,315.0 L625.0,315.1 L625.5,315.4 L626.0,315.8 L626.5,315.4 L627.0,315.9 L627.5,315.7 L628.0,315.4 L628.5,315.7 L629.0,315.4 L629.5,315.7 L630.0,316.0 L630.5,315.6 L631.0,315.7 L631.5,316.5 L632.0,316.3 L632.5,316.2 L633.0,316.3 L633.5,315.6 L634.0,315.9 L634.5,315.9 L635.0,315.6 L635.5,315.7 L636.0,315.4 L636.5,315.7 L637.0,316.2 L637.5,316.7 L638.0,316.7 L638.5,316.3 L639.0,315.9 L639.5,316.5 L640.0,316.2 L640.5,316.3 L641.0,315.4 L641.5,316.0 L642.0,316.2 L642.5,316.0 L643.0,315.7 L643.5,316.0 L644.0,315.7 L644.5,316.3 L645.0,316.2 L645.5,316.1 L646.0,315.9 L646.5,315.9 L647.0,316.3 L647.5,316.1 L648.0,316.2 L648.5,315.8 L649.0,316.0" stroke="#9467bd"/>
<path d="M90.0,315.6 L90.5,315.2 L91.0,315.0 L91.5,315.8 L92.0,315.1 L92.5,315.7 L93.0,315.3 L93.5,315.5 L94.0,314.6 L94.5,315.2 L95.0,315.7 L95.5,315.4 L96.0,315.0 L96.5,315.1 L97.0,315.1 L97.5,315.0 L98.0,315.9 L98.5,314.8 L99.0,314.7 L99.5,315.3 L100.0,314.7 L100.5,314.5 L101.0,315.6 L101.5,315.2 L102.0,315.5 L102.5,315.6 L103.0,315.5 L103.5,315.5 L104.0,316.0 L104.5,314.8 L105.0,315.1 L105.5,315.3 L106.0,315.1 L106.5,314.8 L107.0,314.9 L107.5,314.9 L108.0,315.4 L108.5,315.2 L109.0,315.0 L109.5,315.2 L110.0,314.9 L110.5,315.1 L111.0,315.1 L111.5,315.2 L112.0,315.4 L112.5,315.5 L113.0,315.4 L113.5,315.8 L114.0,314.8 L114.5,315.0 L115.0,315.0 L115.5,315.1 L116.0,315.1 L116.5,314.6 L117.0,315.3 L117.5,314.6 L118.0,314.7 L118.5,315.2 L119.0,314.8 L119.5,315.5 L120.0,315.5 L120.5,315.4 L121.0,315.3 L121.5,315.1 L122.0,314.6 L122.5,315.6 L123.0,315.5 L123.5,314.9 L124.0,314.9 L124.5,315.0 L125.0,314.8 L125.5,315.0 L126.0,315.3 L126.5,315.2 L127.0,315.1 L127.5,314.9 L128.0,314.9 L128.5,314.6 L129.0,315.6 L129.5,315.0 L130.0,314.6 L130.5,314.5 L131.0,314.6 L131.5,314.8 L132.0,315.3 L132.5,315.4 L133.0,315.0 L133.5,314.6 L134.0,314.7 L134.5,315.3 L135.0,314.8 L135.5,314.4 L136.0,314.8 L136.5,315.2 L137.0,315.2 L137.5,315.5 L138.0,314.8 L138.5,315.0 L139.0,315.0 L139.5,314.9 L140.0,314.9 L140.5,314.5 L141.0,314.7 L141.5,315.2 L142.0,314.8 L142.5,315.3 L143.0,315.5 L143.5,315.2 L144.0,315.5 L144.5,315.1 L145.0,315.2 L145.5,315.5 L146.0,315.2 L146.5,315.6 L147.0,315.3 L147.5,315.2 L148.0,315.1 L148.5,315.0 L149.0,315.4 L149.5,315.9 L150.0,315.6 L150.5,314.8 L151.0,314.6 L151.5,315.2 L152.0,314.5 L152.5,315.3 L153.0,314.3 L153.5,314.7 L154.0,314.9 L154.5,314.6 L155.0,314.3 L155.5,314.6 L156.0,314.8 L156.5,314.5 L157.0,315.2 L157.5,314.4 L158.0,314.6 L158.5,314.9 L159.0,315.3 L159.5,314.7 L160.0,315.2 L160.5,315.3 L161.0,314.9 L161.5,315.3 L162.0,314.2 L162.5,313.8 L163.0,314.2 L163.5,314.5 L164.0,315.1 L164.5,314.4 L165.0,314.6 L165.5,314.2 L166.0,314.4 L166.5,315.3 L167.0,315.2 L167.5,315.2 L168.0,315.8 L168.5,315.0 L169.0,315.4 L169.5,316.4 L170.0,315.5 L170.5,315.1 L171.0,314.7 L171.5,314.1 L172.0,314.3 L172.5,314.4 L173.0,314.9 L173.5,314.8 L174.0,315.1 L174.5,314.7 L175.0,314.0 L175.5,314.4 L176.0,314.1 L176.5,314.0 L177.0,314.7 L177.5,314.7 L178.0,314.9 L178.5,314.8 L179.0,314.9 L179.5,314.4 L180.0,314.7 L180.5,315.0 L181.0,314.4 L181.5,314.7 L182.0,314.7 L182.5,315.0 L183.0,315.3 L183.5,315.7 L184.0,315.1 L184.5,314.5 L185.0,314.7 L185.5,314.2 L186.0,314.8 L186.5,314.2 L187.0,314.2 L187.5,314.1 L188.0,314.1 L188.5,313.7 L189.0,314.1 L189.5,314.3 L190.0,314.4 L190.5,314.5 L191.0,314.8 L191.5,315.2 L192.0,314.5 L192.5,314.3 L193.0,314.5 L193.5,314.9 L194.0,314.8 L194.5,314.9 L195.0,314.2 L195.5,314.5 L196.0,314.5 L196.5,314.7 L197.0,314.9 L197.5,315.1 L198.0,313.3 L198.5,313.5 L199.0,314.1 L199.5,314.1 L200.0,314.4 L200.5,314.6 L201.0,314.7 L201.5,314.9 L202.0,314.5 L202.5,314.6 L203.0,315.2 L203.5,313.9 L204.0,314.1 L204.5,313.9 L205.0,314.4 L205.5,314.1 L206.0,314.4 L206.5,314.1 L207.0,313.7 L207.5,314.3 L208.0,314.8 L208.5,315.6 L209.0,315.0 L209.5,314.9 L210.0,314.9 L210.5,314.5 L211.0,314.5 L211.5,314.4 L212.0,314.5 L212.5,313.9 L213.0,314.4 L213.5,314.6 L214.0,313.8 L214.5,314.1 L215.0,314.2 L215.5,314.5 L216.0,313.8 L216.5,313.8 L217.0,315.4 L217.5,314.6 L218.0,314.0 L218.5,314.4 L219.0,313.7 L219.5,314.5 L220.0,313.9 L220.5,313.7 L221.0,314.1 L221.5,314.4 L222.0,314.4 L222.5,313.7 L223.0,313.6 L223.5,313.9 L224.0,314.0 L224.5,314.2 L225.0,313.6 L225.5,313.3 L226.0,313.9 L226.5,313.7 L227.0,313.4 L227.5,313.8 L228.0,314.2 L228.5,313.7 L229.0,314.1 L229.5,314.5 L230.0,314.1 L230.5,313.3 L231.0,312.9 L231.5,313.5 L232.0,313.8 L232.5,313.6 L233.0,313.4 L233.5,313.6 L234.0,313.6 L234.5,313.7 L235.0,313.1 L235.5,313.8 L236.0,313.6 L236.5,313.1 L237.0,313.3 L237.5,314.2 L238.0,313.7 L238.5,314.2 L239.0,313.2 L239.5,313.6 L240.0,313.3 L240.5,313.6 L241.0,313.5 L241.5,313.2 L242.0,313.7 L242.5,313.5 L243.0,313.2 L243.5,313.7 L244.0,313.5 L244.5,313.1 L245.0,312.9 L245.5,313.2 L246.0,313.4 L246.5,313.2 L247.0,313.5 L247.5,313.1 L248.0,313.4 L248.5,312.9 L249.0,313.0 L249.5,313.1 L250.0,312.8 L250.5,313.2 L251.0,312.4 L251.5,313.1 L252.0,313.5 L252.5,312.7 L253.0,312.8 L253.5,313.4 L254.0,313.0 L254.5,313.2 L255.0,313.2 L255.5,313.2 L256.0,312.8 L256.5,312.8 L257.0,312.7 L257.5,312.9 L258.0,312.6 L258.5,312.2 L259.0,312.6 L259.5,312.8 L260.0,313.0 L260.5,313.0 L261.0,312.8 L261.5,312.6 L262.0,312.6 L262.5,312.6 L263.0,312.4 L263.5,312.4 L264.0,312.6 L264.5,312.3 L265.0,312.6 L265.5,312.7 L266.0,312.5 L266.5,312.5 L267.0,313.2 L267.5,313.5 L268.0,313.2 L268.5,313.2 L269.0,313.0 L269.5,312.4 L270.0,312.2 L270.5,312.1 L271.0,312.6 L271.5,312.5 L272.0,312.3 L272.5,312.7 L273.0,312.9 L273.5,313.0 L274.0,312.9 L274.5,313.1 L275.0,312.7 L275.5,312.5 L276.0,312.2 L276.5,312.1 L277.0,312.0 L277.5,312.2 L278.0,312.2 L278.5,312.0 L279.0,312.2 L279.5,312.0 L280.0,312.9 L280.5,312.2 L281.0,312.0 L281.5,312.8 L282.0,312.6 L282.5,312.5 L283.0,311.9 L283.5,312.0 L284.0,312.0 L284.5,312.3 L285.0,312.4 L285.5,312.4 L286.0,311.6 L286.5,312.2 L287.0,313.0 L287.5,313.2 L288.0,312.3 L288.5,312.3 L289.0,312.1 L289.5,312.2 L290.0,311.9 L290.5,312.6 L291.0,312.8 L291.5,312.5 L292.0,312.4 L292.5,312.0 L293.0,311.9 L293.5,312.0 L294.0,310.9 L294.5,311.9 L295.0,312.2 L295.5,311.7 L296.0,312.2 L296.5,312.7 L297.0,311.8 L297.5,311.7 L298.0,311.4 L298.5,311.8 L299.0,312.0 L299.5,311.9 L300.0,311.3 L300.5,311.3 L301.0,311.4 L301.5,311.6 L302.0,311.3 L302.5,312.0 L303.0,312.0 L303.5,311.4 L304.0,312.1 L304.5,312.3 L305.0,311.4 L305.5,311.6 L306.0,311.7 L306.5,312.0 L307.0,312.1 L307.5,311.6 L308.0,311.8 L308.5,311.5 L309.0,312.1 L309.5,310.9 L310.0,310.9 L310.5,310.7 L311.0,310.7 L311.5,310.1 L312.0,309.8 L312.5,309.3 L313.0,308.3 L313.5,307.6 L314.0,307.1 L314.5,307.2 L315.0,306.4 L315.5,305.8 L316.0,305.5 L316.5,304.9 L317.0,305.0 L317.5,305.0 L318.0,304.9 L318.5,305.3 L319.0,305.1 L319.5,304.8 L320.0,305.5 L320.5,306.0 L321.0,306.3 L321.5,306.4 L322.0,307.1 L322.5,307.0 L323.0,307.8 L323.5,308.6 L324.0,308.6 L324.5,308.7 L325.0,309.3 L325.5,309.7 L326.0,309.4 L326.5,309.5 L327.0,309.9 L327.2,310.6 L327.5,310.4 L328.0,310.2 L328.5,309.8 L329.0,309.2 L329.5,309.3 L330.0,308.3 L330.5,308.0 L331.0,307.0 L331.5,305.7 L332.0,304.1 L332.5,301.9 L333.0,299.8 L333.5,297.4 L334.0,295.4 L334.5,293.1 L335.0,291.1 L335.5,289.3 L336.0,288.1 L336.5,287.3 L336.9,287.1 L337.0,287.0 L337.5,287.3 L338.0,287.7 L338.5,288.3 L339.0,289.1 L339.5,290.2 L340.0,291.5 L340.5,292.9 L341.0,294.5 L341.5,296.1 L342.0,297.6 L342.5,299.0 L343.0,300.4 L343.5,301.3 L344.0,303.0 L344.5,303.8 L345.0,304.4 L345.5,304.7 L346.0,304.8 L346.1,304.9 L346.5,304.9 L347.0,303.9 L347.5,303.0 L348.0,301.6 L348.5,299.5 L349.0,297.4 L349.5,294.9 L350.0,292.2 L350.5,289.1 L351.0,285.9 L351.5,282.7 L352.0,279.5 L352.5,276.4 L353.0,273.3 L353.5,270.5 L354.0,267.9 L354.5,265.6 L355.0,263.6 L355.5,262.1 L356.0,260.9 L356.5,260.2 L357.0,260.0 L357.5,260.3 L358.0,261.3 L358.5,262.9 L359.0,265.0 L359.5,267.6 L360.0,270.7 L360.5,274.1 L361.0,277.6 L361.5,281.3 L362.0,285.0 L362.5,288.5 L363.0,291.7 L363.5,294.6 L364.0,297.0 L364.5,299.0 L365.0,300.3 L365.5,301.0 L365.8,301.3 L366.0,297.7 L366.5,290.0 L367.0,283.4 L367.5,277.5 L368.0,272.2 L368.5,267.3 L369.0,262.7 L369.5,258.3 L370.0,254.0 L370.5,249.9 L371.0,245.9 L371.5,241.9 L372.0,238.1 L372.5,234.4 L373.0,230.9 L373.5,227.5 L374.0,224.3 L374.5,221.4 L375.0,218.7 L375.5,216.3 L376.0,214.1 L376.5,212.3 L377.0,210.9 L377.5,209.8 L378.0,209.1 L378.5,208.7 L378.7,208.7 L379.0,208.8 L379.5,209.1 L380.0,209.9 L380.5,210.9 L381.0,212.3 L381.5,214.1 L382.0,216.2 L382.5,218.8 L383.0,222.0 L383.5,226.0 L384.0,231.2 L384.5,238.3 L385.0,248.6 L385.5,263.5 L386.0,284.9 L386.1,289.7 L386.5,273.4 L387.0,255.9 L387.5,242.1 L388.0,231.1 L388.5,222.3 L389.0,214.9 L389.5,208.7 L390.0,203.3 L390.5,198.6 L391.0,194.5 L391.5,190.9 L392.0,187.8 L392.5,185.1 L393.0,182.8 L393.5,181.0 L394.0,179.7 L394.5,178.8 L395.0,178.3 L395.3,178.2 L395.5,178.2 L396.0,178.4 L396.5,178.9 L397.0,179.6 L397.5,180.5 L398.0,181.6 L398.5,183.0 L399.0,184.7 L399.5,186.5 L400.0,188.7 L400.5,191.0 L401.0,193.6 L401.5,196.5 L402.0,199.8 L402.5,203.3 L403.0,207.3 L403.5,211.7 L404.0,216.7 L404.5,222.5 L405.0,229.3 L405.5,237.3 L406.0,246.9 L406.5,258.4 L407.0,272.2 L407.3,281.7 L407.5,274.3 L408.0,257.8 L408.5,244.2 L409.0,233.0 L409.5,223.8 L410.0,216.0 L410.5,209.3 L411.0,203.6 L411.5,198.6 L412.0,194.1 L412.5,190.1 L413.0,186.5 L413.5,183.2 L414.0,180.3 L414.5,177.7 L415.0,175.4 L415.5,173.4 L416.0,171.7 L416.5,170.2 L417.0,169.0 L417.5,168.2 L418.0,167.6 L418.5,167.3 L418.8,167.2 L419.0,167.2 L419.5,167.6 L420.0,168.5 L420.5,169.8 L421.0,171.5 L421.5,173.7 L422.0,176.3 L422.5,179.4 L423.0,183.0 L423.5,187.1 L424.0,191.9 L424.5,197.4 L425.0,203.8 L425.5,211.6 L426.0,221.3 L426.5,233.6 L427.0,249.6 L427.5,270.4 L428.0,250.4 L428.5,235.6 L429.0,224.3 L429.5,215.6 L430.0,208.7 L430.5,203.0 L431.0,198.1 L431.5,194.0 L432.0,190.4 L432.5,187.4 L433.0,184.9 L433.5,182.8 L434.0,181.3 L434.5,180.2 L435.0,179.6 L435.4,179.4 L435.5,179.4 L436.0,179.6 L436.5,180.2 L437.0,181.1 L437.5,182.2 L438.0,183.8 L438.5,185.6 L439.0,187.8 L439.5,190.3 L440.0,193.1 L440.5,196.3 L441.0,200.0 L441.5,204.1 L442.0,208.8 L442.5,214.2 L443.0,220.5 L443.5,228.2 L444.0,237.5 L444.5,249.1 L445.0,263.7 L445.4,277.9 L445.5,272.8 L446.0,251.0 L446.5,234.9 L447.0,222.9 L447.5,213.6 L448.0,206.1 L448.5,199.9 L449.0,194.7 L449.5,190.3 L450.0,186.5 L450.5,183.4 L451.0,180.9 L451.5,178.9 L452.0,177.6 L452.5,176.8 L452.9,176.6 L453.0,176.6 L453.5,177.1 L454.0,178.2 L454.5,179.9 L455.0,182.3 L455.5,185.4 L456.0,189.1 L456.5,193.4 L457.0,198.4 L457.5,204.1 L458.0,210.4 L458.5,217.3 L459.0,224.9 L459.5,233.2 L460.0,242.0 L460.5,251.5 L461.0,261.4 L461.5,271.6 L462.0,281.6 L462.5,290.5 L463.0,297.1 L463.5,301.6 L464.0,304.6 L464.5,305.6 L465.0,306.5 L465.5,307.7 L466.0,308.1 L466.5,308.6 L467.0,309.6 L467.5,309.9 L468.0,310.3 L468.5,310.8 L469.0,310.9 L469.5,310.9 L470.0,310.9 L470.5,311.2 L471.0,311.7 L471.5,311.6 L472.0,312.3 L472.5,312.0 L473.0,311.8 L473.5,312.5 L474.0,313.1 L474.5,313.0 L475.0,312.6 L475.5,312.7 L476.0,312.8 L476.5,312.9 L477.0,313.2 L477.5,313.1 L478.0,313.1 L478.5,313.2 L479.0,313.7 L479.5,312.8 L480.0,313.7 L480.5,313.1 L481.0,313.2 L481.5,313.7 L482.0,313.6 L482.5,315.6 L483.0,314.1 L483.5,313.9 L484.0,313.6 L484.5,313.9 L485.0,314.1 L485.5,314.7 L486.0,314.2 L486.5,313.6 L487.0,314.2 L487.5,313.9 L488.0,313.9 L488.5,313.9 L489.0,313.9 L489.5,314.8 L490.0,314.6 L490.5,314.3 L491.0,314.5 L491.5,315.0 L492.0,314.6 L492.5,315.0 L493.0,314.8 L493.5,314.9 L494.0,314.5 L494.5,314.9 L495.0,315.3 L495.5,314.8 L496.0,314.4 L496.5,314.8 L497.0,315.0 L497.5,315.4 L498.0,314.8 L498.5,314.7 L499.0,315.2 L499.5,314.8 L500.0,315.6 L500.5,315.3 L501.0,314.9 L501.5,315.1 L502.0,315.5 L502.5,314.7 L503.0,314.8 L503.5,314.9 L504.0,314.8 L504.5,314.2 L505.0,315.3 L505.5,314.8 L506.0,314.8 L506.5,315.8 L507.0,315.8 L507.5,315.4 L508.0,315.6 L508.5,315.2 L509.0,314.7 L509.5,314.6 L510.0,314.9 L510.5,315.2 L511.0,315.5 L511.5,315.5 L512.0,315.4 L512.5,314.9 L513.0,315.4 L513.5,315.0 L514.0,314.7 L514.5,314.5 L515.0,315.2 L515.5,315.4 L516.0,316.2 L516.5,315.5 L517.0,315.4 L517.5,316.3 L518.0,316.5 L518.5,315.3 L519.0,315.6 L519.5,316.1 L520.0,315.3 L520.5,315.0 L521.0,316.0 L521.5,316.3 L522.0,316.4 L522.5,316.5 L523.0,316.1 L523.5,316.0 L524.0,315.6 L524.5,315.8 L525.0,315.8 L525.5,315.4 L526.0,315.4 L526.5,315.5 L527.0,315.5 L527.5,315.1 L528.0,315.4 L528.5,315.7 L529.0,315.0 L529.5,315.6 L530.0,315.7 L530.5,315.7 L531.0,315.9 L531.5,316.4 L532.0,315.8 L532.5,315.6 L533.0,315.5 L533.5,315.3 L534.0,315.2 L534.5,316.0 L535.0,317.5 L535.5,316.1 L536.0,316.2 L536.5,316.2 L537.0,315.7 L537.5,315.4 L538.0,316.0 L538.5,315.8 L539.0,316.0 L539.5,315.5 L540.0,315.4 L540.5,316.0 L541.0,315.8 L541.5,315.3 L542.0,315.5 L542.5,316.1 L543.0,315.6 L543.5,315.7 L544.0,316.2 L544.5,316.1 L545.0,315.7 L545.5,316.0 L546.0,315.8 L546.5,316.4 L547.0,317.0 L547.5,317.3 L548.0,316.3 L548.5,315.7 L549.0,316.4 L549.5,316.3 L550.0,316.3 L550.5,316.3 L551.0,316.8 L551.5,316.0 L552.0,316.8 L552.5,316.8 L553.0,316.5 L553.5,315.4 L554.0,316.5 L554.5,316.0 L555.0,315.7 L555.5,315.3 L556.0,315.9 L556.5,316.0 L557.0,315.6 L557.5,316.8 L558.0,315.4 L558.5,315.2 L559.0,314.8 L559.5,315.1 L560.0,315.2 L560.5,315.1 L561.0,315.1 L561.5,315.4 L562.0,315.8 L562.5,316.6 L563.0,316.5 L563.5,316.4 L564.0,316.7 L564.5,315.8 L565.0,316.6 L565.5,316.3 L566.0,316.4 L566.5,316.7 L567.0,315.9 L567.5,316.1 L568.0,315.9 L568.5,315.9 L569.0,315.5 L569.5,316.2 L570.0,316.2 L570.5,316.4 L571.0,316.2 L571.5,316.4 L572.0,316.4 L572.5,316.6 L573.0,316.9 L573.5,316.8 L574.0,316.6 L574.5,316.5 L575.0,316.4 L575.5,316.1 L576.0,316.3 L576.5,316.3 L577.0,316.1 L577.5,316.4 L578.0,316.1 L578.5,316.3 L579.0,316.1 L579.5,315.9 L580.0,316.4 L580.5,316.8 L581.0,317.1 L581.5,316.8 L582.0,316.4 L582.5,316.5 L583.0,316.5 L583.5,316.6 L584.0,316.7 L584.5,316.3 L585.0,316.3 L585.5,316.5 L586.0,316.5 L586.5,316.8 L587.0,317.6 L587.5,316.8 L588.0,316.4 L588.5,316.6 L589.0,317.3 L589.5,317.1 L590.0,316.8 L590.5,316.5 L591.0,318.1 L591.5,316.9 L592.0,316.9 L592.5,316.6 L593.0,316.7 L593.5,316.8 L594.0,316.9 L594.5,316.9 L595.0,316.3 L595.5,316.9 L596.0,317.0 L596.5,316.4 L597.0,316.4 L597.5,316.6 L598.0,316.9 L598.5,317.3 L599.0,316.7 L599.5,316.4 L600.0,316.7 L600.5,316.8 L601.0,317.1 L601.5,316.8 L602.0,317.0 L602.5,316.6 L603.0,316.9 L603.5,317.3 L604.0,316.8 L604.5,317.5 L605.0,317.9 L605.5,318.0 L606.0,317.6 L606.5,317.8 L607.0,317.6 L607.5,317.6 L608.0,317.5 L608.5,317.3 L609.0,317.5 L609.5,317.1 L610.0,317.3 L610.5,316.2 L611.0,315.9 L611.5,316.4 L612.0,317.7 L612.5,318.2 L613.0,317.5 L613.5,317.1 L614.0,317.3 L614.5,317.4 L615.0,317.2 L615.5,317.1 L616.0,317.3 L616.5,317.0 L617.0,316.9 L617.5,316.9 L618.0,316.9 L618.5,316.2 L619.0,316.9 L619.5,317.0 L620.0,317.4 L620.5,317.2 L621.0,316.5 L621.5,316.5 L622.0,316.7 L622.5,317.6 L623.0,317.5 L623.5,317.8 L624.0,317.8 L624.5,317.2 L625.0,317.4 L625.5,318.1 L626.0,317.5 L626.5,317.2 L627.0,317.4 L627.5,317.4 L628.0,318.3 L628.5,317.9 L629.0,317.7 L629.5,317.8 L630.0,317.6 L630.5,317.0 L631.0,317.4 L631.5,317.3 L632.0,317.7 L632.5,317.7 L633.0,317.6 L633.5,317.7 L634.0,317.7 L634.5,317.9 L635.0,316.8 L635.5,316.8 L636.0,317.3 L636.5,317.2 L637.0,317.3 L637.5,317.4 L638.0,317.8 L638.5,318.1 L639.0,318.8 L639.5,319.9 L640.0,318.6 L640.5,319.0 L641.0,318.2 L641.5,318.0 L642.0,317.4 L642.5,317.2 L643.0,317.7 L643.5,317.8 L644.0,317.2 L644.5,317.7 L645.0,317.6 L645.5,317.9 L646.0,318.0 L646.5,318.4 L647.0,318.5 L647.5,318.0 L648.0,317.8 L648.5,317.9 L649.0,318.2" stroke="#1f77b4"/>
<path d="M90.0,314.0 L90.5,313.4 L91.0,314.6 L91.5,314.5 L92.0,314.4 L92.5,314.2 L93.0,314.4 L93.5,313.7 L94.0,314.3 L94.5,315.0 L95.0,314.3 L95.5,314.5 L96.0,314.0 L96.5,313.7 L97.0,313.9 L97.5,313.8 L98.0,313.8 L98.5,314.0 L99.0,314.0 L99.5,314.5 L100.0,314.5 L100.5,314.4 L101.0,314.3 L101.5,314.0 L102.0,314.0 L102.5,314.1 L103.0,314.1 L103.5,313.9 L104.0,314.3 L104.5,314.7 L105.0,314.0 L105.5,314.2 L106.0,313.8 L106.5,313.7 L107.0,313.7 L107.5,314.0 L108.0,314.2 L108.5,314.3 L109.0,314.2 L109.5,314.4 L110.0,314.4 L110.5,314.1 L111.0,314.2 L111.5,314.3 L112.0,314.6 L112.5,314.7 L113.0,314.9 L113.5,314.3 L114.0,314.5 L114.5,314.1 L115.0,313.8 L115.5,314.0 L116.0,313.9 L116.5,313.7 L117.0,313.6 L117.5,313.8 L118.0,313.6 L118.5,313.2 L119.0,313.5 L119.5,313.6 L120.0,313.4 L120.5,313.4 L121.0,313.6 L121.5,313.8 L122.0,314.2 L122.5,314.3 L123.0,314.0 L123.5,313.6 L124.0,313.7 L124.5,313.4 L125.0,313.8 L125.5,313.7 L126.0,314.1 L126.5,313.5 L127.0,313.9 L127.5,314.1 L128.0,313.8 L128.5,314.4 L129.0,314.1 L129.5,313.9 L130.0,313.9 L130.5,313.6 L131.0,313.9 L131.5,313.7 L132.0,314.0 L132.5,314.1 L133.0,313.7 L133.5,313.9 L134.0,313.7 L134.5,313.8 L135.0,313.8 L135.5,313.9 L136.0,314.3 L136.5,314.0 L137.0,313.9 L137.5,314.1 L138.0,313.9 L138.5,313.9 L139.0,314.1 L139.5,314.4 L140.0,313.6 L140.5,313.6 L141.0,313.9 L141.5,313.6 L142.0,313.8 L142.5,313.2 L143.0,313.7 L143.5,313.4 L144.0,313.6 L144.5,313.6 L145.0,313.9 L145.5,314.2 L146.0,313.6 L146.5,313.5 L147.0,313.6 L147.5,313.7 L148.0,313.7 L148.5,313.9 L149.0,313.7 L149.5,313.5 L150.0,313.7 L150.5,313.3 L151.0,313.2 L151.5,313.8 L152.0,314.0 L152.5,313.7 L153.0,314.3 L153.5,314.2 L154.0,313.8 L154.5,314.4 L155.0,313.7 L155.5,313.8 L156.0,313.8 L156.5,313.6 L157.0,313.8 L157.5,313.6 L158.0,313.8 L158.5,312.9 L159.0,313.5 L159.5,313.4 L160.0,313.9 L160.5,313.7 L161.0,313.6 L161.5,313.9 L162.0,314.2 L162.5,314.1 L163.0,313.5 L163.5,313.7 L164.0,314.0 L164.5,313.6 L165.0,314.0 L165.5,313.9 L166.0,314.1 L166.5,314.1 L167.0,313.5 L167.5,313.5 L168.0,313.5 L168.5,313.4 L169.0,313.4 L169.5,313.7 L170.0,313.7 L170.5,313.8 L171.0,313.8 L171.5,314.3 L172.0,314.4 L172.5,313.9 L173.0,313.7 L173.5,313.6 L174.0,313.3 L174.5,313.9 L175.0,313.8 L175.5,313.6 L176.0,314.5 L176.5,313.9 L177.0,314.0 L177.5,313.9 L178.0,314.0 L178.5,313.6 L179.0,313.8 L179.5,314.0 L180.0,313.4 L180.5,313.1 L181.0,313.4 L181.5,313.9 L182.0,313.9 L182.5,314.4 L183.0,314.6 L183.5,313.6 L184.0,313.7 L184.5,313.7 L185.0,313.8 L185.5,313.3 L186.0,313.7 L186.5,313.2 L187.0,313.5 L187.5,313.5 L188.0,313.5 L188.5,313.2 L189.0,313.0 L189.5,313.5 L190.0,313.6 L190.5,313.6 L191.0,313.5 L191.5,313.5 L192.0,313.3 L192.5,313.6 L193.0,313.6 L193.5,313.6 L194.0,313.6 L194.5,313.0 L195.0,312.9 L195.5,313.2 L196.0,313.6 L196.5,313.3 L197.0,313.6 L197.5,313.8 L198.0,313.2 L198.5,313.3 L199.0,313.1 L199.5,313.6 L200.0,314.0 L200.5,313.8 L201.0,314.0 L201.5,313.3 L202.0,313.8 L202.5,312.8 L203.0,312.7 L203.5,313.0 L204.0,313.2 L204.5,313.0 L205.0,313.0 L205.5,313.5 L206.0,314.3 L206.5,313.9 L207.0,313.9 L207.5,313.3 L208.0,313.0 L208.5,312.9 L209.0,312.9 L209.5,313.1 L210.0,313.0 L210.5,313.2 L211.0,312.7 L211.5,313.2 L212.0,313.2 L212.5,313.0 L213.0,313.3 L213.5,313.5 L214.0,313.6 L214.5,313.1 L215.0,312.4 L215.5,312.6 L216.0,312.8 L216.5,312.9 L217.0,312.5 L217.5,312.7 L218.0,313.2 L218.5,313.4 L219.0,312.6 L219.5,312.3 L220.0,312.5 L220.5,312.8 L221.0,312.8 L221.5,313.0 L222.0,312.7 L222.5,313.1 L223.0,312.8 L223.5,313.7 L224.0,313.5 L224.5,313.6 L225.0,313.2 L225.5,313.6 L226.0,313.2 L226.5,313.3 L227.0,312.9 L227.5,313.3 L228.0,312.5 L228.5,312.2 L229.0,312.2 L229.5,312.5 L230.0,312.3 L230.5,313.0 L231.0,312.5 L231.5,312.5 L232.0,312.9 L232.5,312.8 L233.0,312.9 L233.5,312.2 L234.0,312.4 L234.5,312.3 L235.0,312.1 L235.5,312.4 L236.0,312.5 L236.5,313.2 L237.0,312.9 L237.5,312.4 L238.0,312.6 L238.5,312.4 L239.0,312.5 L239.5,312.1 L240.0,311.3 L240.5,312.2 L241.0,312.4 L241.5,311.8 L242.0,311.8 L242.5,311.6 L243.0,312.1 L243.5,311.7 L244.0,311.7 L244.5,312.3 L245.0,312.0 L245.5,312.2 L246.0,312.8 L246.5,312.8 L247.0,312.0 L247.5,312.2 L248.0,312.4 L248.5,312.5 L249.0,312.7 L249.5,312.0 L250.0,311.8 L250.5,311.5 L251.0,311.8 L251.5,311.9 L252.0,312.3 L252.5,312.3 L253.0,312.5 L253.5,311.5 L254.0,311.6 L254.5,311.2 L255.0,311.6 L255.5,311.9 L256.0,311.9 L256.5,311.6 L257.0,311.3 L257.5,311.0 L258.0,311.9 L258.5,312.1 L259.0,311.7 L259.5,312.1 L260.0,311.3 L260.5,311.8 L261.0,311.5 L261.5,310.9 L262.0,311.2 L262.5,310.8 L263.0,311.4 L263.5,311.1 L264.0,311.0 L264.5,311.2 L265.0,311.5 L265.5,311.6 L266.0,311.4 L266.5,311.8 L267.0,312.1 L267.5,312.0 L268.0,311.6 L268.5,311.9 L269.0,312.2 L269.5,311.4 L270.0,311.1 L270.5,311.4 L271.0,311.5 L271.5,311.5 L272.0,311.3 L272.5,311.3 L273.0,311.3 L273.5,311.1 L274.0,311.3 L274.5,311.9 L275.0,311.9 L275.5,312.0 L276.0,312.0 L276.5,311.6 L277.0,311.2 L277.5,311.3 L278.0,311.0 L278.5,311.6 L279.0,311.4 L279.5,311.5 L280.0,311.0 L280.5,311.2 L281.0,310.8 L281.5,311.1 L282.0,310.9 L282.5,310.9 L283.0,310.6 L283.5,310.8 L284.0,311.0 L284.5,310.8 L285.0,311.1 L285.5,311.3 L286.0,311.2 L286.5,310.7 L287.0,310.6 L287.5,311.1 L288.0,311.2 L288.5,311.2 L289.0,311.4 L289.5,310.9 L290.0,310.8 L290.5,310.7 L291.0,311.5 L291.5,311.6 L292.0,311.7 L292.5,311.5 L293.0,311.4 L293.5,311.4 L294.0,310.8 L294.5,310.8 L295.0,309.8 L295.5,310.9 L296.0,310.3 L296.5,310.2 L297.0,311.2 L297.5,310.9 L298.0,310.3 L298.5,310.6 L299.0,310.4 L299.5,310.6 L300.0,310.6 L300.5,311.2 L301.0,311.4 L301.5,311.0 L302.0,311.2 L302.5,310.8 L303.0,310.6 L303.5,311.0 L304.0,310.9 L304.5,310.8 L305.0,311.0 L305.5,311.0 L306.0,311.1 L306.5,310.6 L307.0,310.2 L307.5,310.4 L308.0,311.0 L308.5,310.9 L309.0,310.6 L309.5,310.3 L310.0,310.4 L310.5,309.7 L311.0,309.2 L311.5,308.9 L312.0,308.2 L312.5,307.6 L313.0,307.5 L313.5,306.9 L314.0,306.5 L314.5,306.7 L315.0,306.2 L315.5,305.6 L316.0,305.1 L316.5,304.7 L317.0,304.7 L317.5,304.0 L318.0,304.3 L318.5,304.6 L319.0,304.8 L319.5,304.8 L320.0,305.1 L320.5,305.1 L321.0,305.6 L321.5,305.7 L322.0,306.7 L322.5,306.8 L323.0,307.1 L323.5,307.4 L324.0,308.6 L324.5,308.2 L325.0,308.4 L325.5,308.7 L326.0,308.7 L326.5,309.3 L327.0,309.8 L327.2,309.0 L327.5,308.8 L328.0,309.0 L328.5,308.7 L329.0,308.2 L329.5,308.0 L330.0,307.3 L330.5,306.5 L331.0,306.0 L331.5,304.6 L332.0,303.2 L332.5,301.4 L333.0,299.4 L333.5,297.3 L334.0,294.9 L334.5,292.6 L335.0,290.7 L335.5,288.9 L336.0,287.5 L336.5,286.8 L336.9,286.5 L337.0,286.4 L337.5,286.6 L338.0,287.1 L338.5,287.8 L339.0,288.6 L339.5,289.8 L340.0,291.1 L340.5,292.5 L341.0,293.9 L341.5,295.6 L342.0,297.3 L342.5,298.5 L343.0,300.1 L343.5,301.2 L344.0,302.4 L344.5,303.4 L345.0,303.8 L345.5,304.1 L346.0,304.2 L346.1,304.4 L346.5,304.2 L347.0,303.6 L347.5,302.6 L348.0,301.1 L348.5,299.2 L349.0,296.8 L349.5,294.2 L350.0,291.2 L350.5,288.1 L351.0,284.7 L351.5,281.3 L352.0,277.8 L352.5,274.3 L353.0,270.9 L353.5,267.7 L354.0,264.6 L354.5,261.9 L355.0,259.4 L355.5,257.3 L356.0,255.6 L356.5,254.3 L357.0,253.5 L357.5,253.2 L357.6,253.2 L358.0,253.5 L358.5,254.6 L359.0,256.5 L359.5,259.2 L360.0,262.6 L360.5,266.4 L361.0,270.7 L361.5,275.2 L362.0,279.7 L362.5,284.2 L363.0,288.4 L363.5,292.0 L364.0,295.1 L364.5,297.8 L365.0,299.8 L365.5,300.9 L365.8,300.8 L366.0,296.7 L366.5,287.9 L367.0,280.2 L367.5,273.5 L368.0,267.4 L368.5,261.7 L369.0,256.4 L369.5,251.3 L370.0,246.4 L370.5,241.6 L371.0,237.0 L371.5,232.4 L372.0,228.1 L372.5,223.9 L373.0,219.9 L373.5,216.2 L374.0,212.7 L374.5,209.6 L375.0,206.8 L375.5,204.4 L376.0,202.4 L376.5,200.9 L377.0,199.8 L377.5,199.2 L377.9,199.0 L378.0,199.0 L378.5,199.2 L379.0,199.5 L379.5,200.2 L380.0,201.0 L380.5,202.1 L381.0,203.4 L381.5,204.9 L382.0,206.7 L382.5,208.8 L383.0,211.4 L383.5,214.5 L384.0,218.3 L384.5,223.3 L385.0,230.1 L385.5,239.4 L386.0,252.3 L386.5,270.3 L386.9,288.3 L387.0,284.3 L387.5,265.4 L388.0,249.9 L388.5,237.6 L389.0,227.7 L389.5,219.5 L390.0,212.7 L390.5,206.8 L391.0,201.7 L391.5,197.3 L392.0,193.3 L392.5,189.9 L393.0,186.8 L393.5,184.2 L394.0,182.0 L394.5,180.2 L395.0,178.8 L395.5,177.8 L396.0,177.2 L396.5,177.0 L397.0,177.1 L397.5,177.5 L398.0,178.0 L398.5,178.9 L399.0,179.9 L399.5,181.2 L400.0,182.7 L400.5,184.5 L401.0,186.4 L401.5,188.7 L402.0,191.2 L402.5,194.0 L403.0,197.0 L403.5,200.5 L404.0,204.3 L404.5,208.7 L405.0,213.7 L405.5,219.6 L406.0,226.6 L406.5,234.9 L407.0,245.1 L407.5,257.6 L407.9,269.6 L408.0,265.7 L408.5,248.6 L409.0,235.0 L409.5,224.1 L410.0,215.3 L410.5,208.1 L411.0,202.0 L411.5,196.7 L412.0,192.2 L412.5,188.2 L413.0,184.6 L413.5,181.5 L414.0,178.7 L414.5,176.3 L415.0,174.1 L415.5,172.4 L416.0,170.9 L416.5,169.8 L417.0,168.9 L417.5,168.5 L418.0,168.3 L418.5,168.4 L419.0,168.9 L419.5,169.6 L420.0,170.6 L420.5,171.8 L421.0,173.4 L421.5,175.3 L422.0,177.4 L422.5,179.8 L423.0,182.6 L423.5,185.7 L424.0,189.3 L424.5,193.4 L425.0,198.1 L425.5,203.7 L426.0,210.4 L426.5,218.7 L427.0,229.1 L427.5,242.3 L427.8,252.0 L428.0,243.5 L428.5,226.7 L429.0,214.5 L429.5,205.3 L430.0,198.2 L430.5,192.5 L431.0,187.8 L431.5,183.8 L432.0,180.4 L432.5,177.5 L433.0,175.2 L433.5,173.3 L434.0,172.0 L434.5,171.2 L435.0,170.8 L435.1,170.8 L435.5,170.9 L436.0,171.3 L436.5,172.0 L437.0,173.0 L437.5,174.3 L438.0,175.9 L438.5,177.9 L439.0,180.1 L439.5,182.7 L440.0,185.6 L440.5,188.8 L441.0,192.5 L441.5,196.6 L442.0,201.3 L442.5,206.7 L443.0,213.1 L443.5,220.7 L444.0,230.0 L444.5,241.5 L445.0,255.9 L445.4,270.0 L445.5,265.7 L446.0,247.2 L446.5,233.3 L447.0,222.6 L447.5,214.2 L448.0,207.4 L448.5,201.8 L449.0,197.0 L449.5,192.9 L450.0,189.3 L450.5,186.2 L451.0,183.6 L451.5,181.5 L452.0,179.7 L452.5,178.5 L453.0,177.6 L453.5,177.2 L453.7,177.2 L454.0,177.3 L454.5,178.2 L455.0,179.8 L455.5,182.2 L456.0,185.3 L456.5,189.2 L457.0,193.9 L457.5,199.3 L458.0,205.5 L458.5,212.4 L459.0,220.2 L459.5,228.6 L460.0,237.8 L460.5,247.8 L461.0,258.3 L461.5,269.3 L462.0,280.0 L462.5,289.4 L463.0,296.4 L463.5,301.0 L464.0,303.9 L464.5,305.4 L465.0,305.9 L465.5,306.9 L466.0,307.8 L466.5,308.3 L467.0,308.8 L467.5,308.9 L468.0,309.1 L468.5,309.2 L469.0,309.9 L469.5,309.8 L470.0,309.9 L470.5,310.6 L471.0,310.8 L471.5,311.2 L472.0,310.7 L472.5,310.6 L473.0,310.6 L473.5,311.1 L474.0,311.5 L474.5,310.7 L475.0,311.5 L475.5,312.2 L476.0,311.8 L476.5,311.6 L477.0,311.6 L477.5,312.1 L478.0,312.6 L478.5,312.2 L479.0,312.1 L479.5,311.6 L480.0,312.4 L480.5,312.1 L481.0,312.4 L481.5,312.8 L482.0,312.4 L482.5,312.8 L483.0,312.7 L483.5,313.0 L484.0,313.0 L484.5,313.2 L485.0,313.3 L485.5,313.0 L486.0,312.7 L486.5,313.1 L487.0,313.4 L487.5,313.5 L488.0,313.5 L488.5,313.5 L489.0,313.2 L489.5,313.1 L490.0,313.3 L490.5,313.3 L491.0,313.3 L491.5,313.8 L492.0,313.3 L492.5,313.0 L493.0,313.2 L493.5,313.5 L494.0,313.5 L494.5,313.6 L495.0,313.7 L495.5,313.5 L496.0,313.8 L496.5,314.0 L497.0,313.6 L497.5,313.5 L498.0,313.2 L498.5,313.5 L499.0,314.6 L499.5,314.2 L500.0,314.0 L500.5,313.8 L501.0,313.2 L501.5,313.4 L502.0,314.0 L502.5,314.6 L503.0,313.9 L503.5,314.3 L504.0,314.2 L504.5,313.4 L505.0,313.5 L505.5,313.5 L506.0,314.2 L506.5,314.4 L507.0,314.6 L507.5,314.9 L508.0,314.8 L508.5,314.8 L509.0,314.5 L509.5,314.3 L510.0,314.6 L510.5,314.0 L511.0,313.8 L511.5,314.1 L512.0,314.3 L512.5,314.2 L513.0,314.8 L513.5,314.9 L514.0,314.5 L514.5,314.5 L515.0,313.8 L515.5,314.7 L516.0,314.7 L516.5,314.4 L517.0,313.9 L517.5,313.7 L518.0,313.2 L518.5,314.1 L519.0,314.6 L519.5,315.0 L520.0,314.2 L520.5,314.7 L521.0,314.3 L521.5,313.6 L522.0,314.2 L522.5,314.6 L523.0,314.4 L523.5,314.3 L524.0,314.1 L524.5,314.3 L525.0,314.6 L525.5,315.0 L526.0,314.1 L526.5,314.4 L527.0,314.4 L527.5,314.3 L528.0,313.8 L528.5,313.9 L529.0,314.0 L529.5,314.3 L530.0,313.8 L530.5,313.4 L531.0,313.9 L531.5,313.8 L532.0,314.4 L532.5,314.2 L533.0,314.2 L533.5,313.8 L534.0,314.3 L534.5,313.9 L535.0,314.7 L535.5,314.5 L536.0,314.9 L536.5,314.9 L537.0,314.6 L537.5,314.4 L538.0,314.2 L538.5,314.9 L539.0,315.0 L539.5,314.9 L540.0,314.0 L540.5,315.0 L541.0,315.2 L541.5,314.2 L542.0,314.8 L542.5,314.7 L543.0,314.6 L543.5,314.9 L544.0,315.2 L544.5,314.7 L545.0,314.5 L545.5,315.6 L546.0,314.8 L546.5,314.8 L547.0,315.0 L547.5,315.2 L548.0,314.8 L548.5,314.5 L549.0,314.4 L549.5,315.3 L550.0,315.1 L550.5,315.4 L551.0,315.3 L551.5,315.1 L552.0,315.2 L552.5,315.1 L553.0,315.4 L553.5,315.3 L554.0,315.7 L554.5,315.0 L555.0,315.3 L555.5,315.0 L556.0,315.2 L556.5,315.1 L557.0,315.2 L557.5,315.0 L558.0,315.2 L558.5,315.1 L559.0,314.6 L559.5,315.0 L560.0,315.0 L560.5,314.5 L561.0,315.5 L561.5,315.2 L562.0,315.2 L562.5,315.1 L563.0,315.7 L563.5,315.8 L564.0,315.1 L564.5,314.8 L565.0,314.9 L565.5,314.9 L566.0,315.3 L566.5,315.2 L567.0,315.1 L567.5,315.6 L568.0,315.6 L568.5,315.9 L569.0,315.0 L569.5,315.2 L570.0,315.1 L570.5,315.6 L571.0,315.9 L571.5,315.8 L572.0,315.9 L572.5,314.9 L573.0,314.6 L573.5,315.1 L574.0,315.3 L574.5,316.1 L575.0,315.9 L575.5,315.6 L576.0,315.6 L576.5,315.2 L577.0,315.3 L577.5,315.3 L578.0,315.2 L578.5,315.5 L579.0,315.5 L579.5,315.7 L580.0,315.6 L580.5,315.7 L581.0,316.3 L581.5,315.8 L582.0,315.6 L582.5,315.6 L583.0,315.6 L583.5,315.7 L584.0,315.4 L584.5,316.1 L585.0,316.2 L585.5,315.2 L586.0,315.3 L586.5,315.1 L587.0,315.3 L587.5,315.2 L588.0,315.9 L588.5,315.6 L589.0,315.6 L589.5,315.3 L590.0,316.1 L590.5,315.7 L591.0,315.7 L591.5,315.7 L592.0,316.3 L592.5,315.9 L593.0,315.4 L593.5,315.3 L594.0,315.3 L594.5,315.9 L595.0,315.7 L595.5,315.8 L596.0,315.4 L596.5,315.7 L597.0,315.4 L597.5,315.5 L598.0,315.0 L598.5,315.4 L599.0,315.5 L599.5,316.2 L600.0,316.1 L600.5,315.9 L601.0,316.3 L601.5,316.0 L602.0,315.7 L602.5,315.9 L603.0,316.3 L603.5,316.2 L604.0,316.5 L604.5,316.4 L605.0,315.9 L605.5,315.8 L606.0,316.2 L606.5,316.2 L607.0,315.5 L607.5,315.8 L608.0,315.6 L608.5,315.9 L609.0,315.6 L609.5,315.9 L610.0,316.4 L610.5,316.9 L611.0,316.1 L611.5,315.7 L612.0,315.3 L612.5,316.2 L613.0,316.4 L613.5,315.9 L614.0,315.7 L614.5,315.7 L615.0,316.0 L615.5,315.5 L616.0,315.7 L616.5,316.1 L617.0,316.5 L617.5,315.9 L618.0,315.8 L618.5,315.9 L619.0,315.8 L619.5,316.3 L620.0,316.0 L620.5,316.6 L621.0,316.4 L621.5,316.5 L622.0,316.2 L622.5,316.3 L623.0,316.0 L623.5,316.1 L624.0,316.3 L624.5,316.7 L625.0,316.3 L625.5,315.9 L626.0,316.7 L626.5,316.8 L627.0,316.7 L627.5,316.2 L628.0,316.5 L628.5,315.9 L629.0,316.0 L629.5,316.3 L630.0,316.1 L630.5,316.5 L631.0,317.0 L631.5,317.2 L632.0,317.1 L632.5,315.9 L633.0,315.9 L633.5,316.7 L634.0,317.0 L634.5,316.6 L635.0,316.8 L635.5,316.5 L636.0,316.9 L636.5,316.6 L637.0,316.5 L637.5,316.5 L638.0,316.6 L638.5,316.6 L639.0,316.6 L639.5,316.3 L640.0,316.8 L640.5,316.8 L641.0,316.5 L641.5,316.3 L642.0,316.3 L642.5,316.4 L643.0,316.8 L643.5,316.5 L644.0,316.5 L644.5,316.6 L645.0,316.6 L645.5,316.3 L646.0,316.1 L646.5,316.4 L647.0,316.9 L647.5,317.0 L648.0,317.0 L648.5,316.6 L649.0,317.0" stroke="#17becf"/>
<path d="M90.0,310.0 L90.5,310.3 L91.0,310.4 L91.5,310.1 L92.0,309.9 L92.5,309.9 L93.0,310.5 L93.5,310.8 L94.0,310.4 L94.5,310.0 L95.0,309.7 L95.5,309.6 L96.0,310.0 L96.5,309.9 L97.0,309.9 L97.5,310.0 L98.0,309.6 L98.5,309.5 L99.0,309.7 L99.5,309.7 L100.0,309.8 L100.5,309.9 L101.0,310.1 L101.5,310.2 L102.0,310.1 L102.5,310.2 L103.0,310.0 L103.5,310.2 L104.0,310.1 L104.5,309.9 L105.0,309.7 L105.5,309.7 L106.0,309.7 L106.5,310.0 L107.0,310.0 L107.5,309.5 L108.0,309.7 L108.5,309.3 L109.0,309.6 L109.5,309.6 L110.0,309.7 L110.5,310.1 L111.0,309.7 L111.5,309.5 L112.0,310.0 L112.5,309.7 L113.0,310.1 L113.5,309.9 L114.0,309.7 L114.5,309.4 L115.0,309.2 L115.5,309.6 L116.0,309.9 L116.5,309.7 L117.0,309.6 L117.5,309.9 L118.0,309.6 L118.5,309.5 L119.0,309.5 L119.5,309.6 L120.0,309.7 L120.5,309.4 L121.0,310.1 L121.5,309.7 L122.0,310.0 L122.5,309.9 L123.0,309.8 L123.5,309.5 L124.0,309.5 L124.5,309.5 L125.0,309.3 L125.5,309.8 L126.0,309.6 L126.5,309.3 L127.0,309.9 L127.5,309.6 L128.0,310.0 L128.5,309.5 L129.0,310.0 L129.5,309.5 L130.0,309.4 L130.5,309.7 L131.0,309.3 L131.5,309.7 L132.0,310.0 L132.5,309.8 L133.0,309.6 L133.5,309.7 L134.0,309.7 L134.5,309.8 L135.0,309.7 L135.5,309.7 L136.0,309.5 L136.5,309.7 L137.0,309.8 L137.5,309.7 L138.0,310.1 L138.5,310.1 L139.0,310.1 L139.5,309.7 L140.0,309.5 L140.5,309.5 L141.0,309.4 L141.5,309.6 L142.0,310.1 L142.5,310.2 L143.0,310.2 L143.5,309.5 L144.0,309.8 L144.5,309.9 L145.0,310.1 L145.5,309.9 L146.0,310.0 L146.5,309.9 L147.0,310.1 L147.5,310.3 L148.0,310.1 L148.5,309.7 L149.0,310.0 L149.5,309.6 L150.0,309.7 L150.5,310.0 L151.0,309.9 L151.5,309.6 L152.0,309.5 L152.5,309.3 L153.0,309.7 L153.5,309.6 L154.0,309.9 L154.5,310.0 L155.0,309.7 L155.5,309.4 L156.0,309.4 L156.5,309.5 L157.0,309.3 L157.5,309.7 L158.0,309.9 L158.5,309.1 L159.0,309.2 L159.5,309.2 L160.0,309.6 L160.5,309.3 L161.0,309.5 L161.5,309.3 L162.0,309.5 L162.5,309.4 L163.0,309.3 L163.5,309.5 L164.0,309.3 L164.5,309.6 L165.0,309.6 L165.5,309.5 L166.0,309.3 L166.5,309.3 L167.0,309.5 L167.5,309.2 L168.0,309.9 L168.5,309.5 L169.0,309.4 L169.5,309.3 L170.0,309.3 L170.5,309.1 L171.0,309.3 L171.5,309.4 L172.0,309.6 L172.5,309.3 L173.0,309.5 L173.5,309.5 L174.0,309.5 L174.5,309.5 L175.0,309.4 L175.5,309.2 L176.0,309.2 L176.5,309.5 L177.0,309.4 L177.5,309.6 L178.0,309.4 L178.5,309.3 L179.0,309.0 L179.5,309.4 L180.0,309.3 L180.5,309.1 L181.0,309.1 L181.5,309.3 L182.0,309.4 L182.5,309.5 L183.0,309.5 L183.5,309.4 L184.0,309.8 L184.5,310.0 L185.0,309.7 L185.5,309.5 L186.0,309.3 L186.5,309.4 L187.0,309.2 L187.5,309.5 L188.0,309.4 L188.5,309.6 L189.0,309.5 L189.5,309.6 L190.0,309.5 L190.5,309.5 L191.0,309.2 L191.5,309.3 L192.0,308.9 L192.5,309.1 L193.0,308.8 L193.5,309.2 L194.0,309.4 L194.5,309.6 L195.0,309.7 L195.5,308.9 L196.0,309.0 L196.5,309.0 L197.0,309.0 L197.5,308.8 L198.0,308.8 L198.5,309.2 L199.0,309.2 L199.5,309.2 L200.0,309.4 L200.5,309.7 L201.0,309.6 L201.5,309.4 L202.0,309.3 L202.5,308.7 L203.0,308.7 L203.5,309.1 L204.0,309.2 L204.5,309.0 L205.0,309.2 L205.5,309.2 L206.0,309.1 L206.5,308.9 L207.0,308.9 L207.5,308.9 L208.0,309.2 L208.5,308.6 L209.0,308.9 L209.5,308.9 L210.0,309.3 L210.5,309.0 L211.0,309.0 L211.5,309.2 L212.0,309.1 L212.5,309.2 L213.0,309.0 L213.5,308.8 L214.0,308.6 L214.5,308.4 L215.0,308.8 L215.5,308.8 L216.0,308.9 L216.5,308.4 L217.0,308.5 L217.5,309.1 L218.0,308.9 L218.5,308.8 L219.0,308.7 L219.5,308.6 L220.0,308.4 L220.5,308.9 L221.0,309.2 L221.5,308.9 L222.0,308.6 L222.5,308.8 L223.0,308.6 L223.5,308.9 L224.0,308.8 L224.5,309.0 L225.0,308.5 L225.5,308.6 L226.0,308.9 L226.5,308.7 L227.0,308.7 L227.5,309.0 L228.0,308.4 L228.5,308.5 L229.0,308.4 L229.5,308.5 L230.0,308.8 L230.5,308.5 L231.0,308.8 L231.5,308.5 L232.0,308.3 L232.5,308.4 L233.0,308.5 L233.5,308.0 L234.0,308.2 L234.5,308.1 L235.0,308.2 L235.5,308.5 L236.0,308.5 L236.5,308.4 L237.0,308.2 L237.5,308.3 L238.0,308.3 L238.5,308.5 L239.0,308.3 L239.5,308.1 L240.0,308.2 L240.5,308.1 L241.0,308.3 L241.5,308.3 L242.0,308.2 L242.5,308.0 L243.0,308.1 L243.5,307.9 L244.0,308.1 L244.5,307.8 L245.0,308.1 L245.5,308.5 L246.0,308.8 L246.5,308.4 L247.0,307.9 L247.5,308.1 L248.0,308.0 L248.5,308.4 L249.0,307.9 L249.5,308.1 L250.0,307.6 L250.5,307.5 L251.0,307.5 L251.5,307.8 L252.0,308.0 L252.5,307.9 L253.0,308.0 L253.5,308.0 L254.0,308.4 L254.5,308.2 L255.0,307.6 L255.5,307.7 L256.0,308.0 L256.5,308.0 L257.0,307.9 L257.5,307.8 L258.0,307.8 L258.5,307.2 L259.0,307.6 L259.5,307.5 L260.0,307.4 L260.5,307.5 L261.0,307.2 L261.5,307.5 L262.0,307.5 L262.5,307.7 L263.0,307.9 L263.5,307.6 L264.0,307.5 L264.5,307.3 L265.0,307.4 L265.5,307.4 L266.0,307.6 L266.5,307.6 L267.0,307.5 L267.5,307.5 L268.0,307.6 L268.5,307.4 L269.0,307.6 L269.5,307.2 L270.0,307.4 L270.5,307.6 L271.0,307.1 L271.5,306.8 L272.0,307.0 L272.5,307.3 L273.0,307.5 L273.5,307.8 L274.0,307.6 L274.5,307.5 L275.0,307.2 L275.5,307.0 L276.0,307.2 L276.5,307.5 L277.0,307.6 L277.5,307.4 L278.0,307.6 L278.5,307.5 L279.0,307.1 L279.5,307.3 L280.0,307.4 L280.5,307.2 L281.0,307.2 L281.5,307.2 L282.0,306.9 L282.5,306.9 L283.0,307.1 L283.5,306.9 L284.0,306.8 L284.5,307.1 L285.0,307.1 L285.5,306.9 L286.0,306.9 L286.5,307.4 L287.0,307.2 L287.5,307.2 L288.0,306.8 L288.5,307.0 L289.0,306.9 L289.5,307.3 L290.0,307.2 L290.5,307.3 L291.0,307.2 L291.5,307.0 L292.0,307.3 L292.5,307.2 L293.0,307.0 L293.5,306.8 L294.0,306.9 L294.5,306.9 L295.0,306.7 L295.5,306.8 L296.0,306.8 L296.5,306.6 L297.0,306.4 L297.5,306.3 L298.0,306.6 L298.5,306.7 L299.0,306.9 L299.5,306.9 L300.0,306.9 L300.5,306.6 L301.0,306.5 L301.5,306.8 L302.0,306.7 L302.5,306.6 L303.0,306.9 L303.5,306.4 L304.0,306.4 L304.5,306.5 L305.0,306.7 L305.5,306.5 L306.0,306.3 L306.5,306.2 L307.0,306.2 L307.5,306.2 L308.0,305.8 L308.5,305.5 L309.0,305.4 L309.5,304.7 L310.0,304.1 L310.5,303.7 L311.0,303.0 L311.5,303.0 L312.0,302.6 L312.5,301.8 L313.0,301.6 L313.5,301.3 L314.0,300.9 L314.5,300.5 L315.0,300.6 L315.5,300.8 L315.6,300.8 L316.0,300.6 L316.5,300.7 L317.0,300.8 L317.5,300.9 L318.0,300.8 L318.5,301.3 L319.0,301.2 L319.5,301.6 L320.0,302.0 L320.5,302.4 L321.0,302.5 L321.5,303.0 L322.0,303.3 L322.5,303.1 L323.0,303.4 L323.3,303.5 L323.5,303.2 L324.0,303.2 L324.5,303.1 L325.0,303.1 L325.5,302.9 L326.0,302.6 L326.5,302.3 L327.0,301.6 L327.5,301.0 L328.0,300.3 L328.5,299.1 L329.0,297.8 L329.5,296.5 L330.0,294.7 L330.5,293.3 L331.0,291.5 L331.5,289.8 L332.0,288.0 L332.5,286.5 L333.0,285.0 L333.5,283.8 L334.0,282.8 L334.5,282.2 L335.0,282.0 L335.5,282.1 L336.0,282.3 L336.5,282.9 L337.0,283.6 L337.5,284.5 L338.0,285.6 L338.5,286.8 L339.0,287.9 L339.5,289.1 L340.0,290.5 L340.5,291.9 L341.0,293.3 L341.5,294.6 L342.0,295.8 L342.5,296.9 L343.0,297.9 L343.5,298.6 L344.0,299.4 L344.5,299.7 L345.0,300.1 L345.3,300.1 L345.5,300.0 L346.0,299.6 L346.5,298.5 L347.0,296.8 L347.5,295.0 L348.0,292.5 L348.5,289.8 L349.0,286.6 L349.5,283.3 L350.0,279.9 L350.5,276.4 L351.0,272.9 L351.5,269.5 L352.0,266.4 L352.5,263.5 L353.0,261.0 L353.5,258.9 L354.0,257.2 L354.5,256.1 L355.0,255.5 L355.3,255.4 L355.5,255.4 L356.0,256.0 L356.5,257.1 L357.0,258.8 L357.5,261.0 L358.0,263.7 L358.5,266.7 L359.0,269.9 L359.5,273.4 L360.0,276.8 L360.5,280.3 L361.0,283.6 L361.5,286.7 L362.0,289.4 L362.5,291.7 L363.0,293.4 L363.5,294.7 L364.0,295.3 L364.3,295.5 L364.5,287.9 L365.0,272.5 L365.5,260.6 L366.0,251.1 L366.5,243.3 L367.0,236.7 L367.5,230.8 L368.0,225.5 L368.5,220.7 L369.0,216.4 L369.5,212.6 L370.0,209.3 L370.5,206.6 L371.0,204.4 L371.5,202.8 L372.0,201.8 L372.5,201.5 L373.0,201.6 L373.5,201.8 L374.0,202.1 L374.5,202.6 L375.0,203.3 L375.5,204.1 L376.0,205.0 L376.5,206.1 L377.0,207.3 L377.5,208.7 L378.0,210.3 L378.5,212.1 L379.0,214.1 L379.5,216.4 L380.0,219.2 L380.5,222.4 L381.0,226.5 L381.5,231.5 L382.0,237.8 L382.5,245.9 L383.0,256.3 L383.5,269.5 L383.9,281.9 L384.0,278.4 L384.5,261.7 L385.0,247.7 L385.5,236.2 L386.0,226.8 L386.5,218.9 L387.0,212.3 L387.5,206.5 L388.0,201.5 L388.5,197.1 L389.0,193.1 L389.5,189.6 L390.0,186.4 L390.5,183.6 L391.0,181.1 L391.5,178.9 L392.0,177.0 L392.5,175.4 L393.0,174.1 L393.5,173.1 L394.0,172.4 L394.5,172.0 L394.9,171.9 L395.0,171.9 L395.5,172.1 L396.0,172.6 L396.5,173.5 L397.0,174.6 L397.5,176.0 L398.0,177.8 L398.5,179.8 L399.0,182.2 L399.5,184.8 L400.0,187.9 L400.5,191.3 L401.0,195.2 L401.5,199.7 L402.0,204.8 L402.5,210.9 L403.0,218.3 L403.5,227.3 L404.0,238.6 L404.5,252.9 L404.8,263.3 L405.0,255.6 L405.5,239.1 L406.0,226.1 L406.5,215.7 L407.0,207.4 L407.5,200.4 L408.0,194.6 L408.5,189.6 L409.0,185.2 L409.5,181.3 L410.0,177.9 L410.5,174.9 L411.0,172.2 L411.5,169.9 L412.0,168.0 L412.5,166.3 L413.0,165.0 L413.5,164.1 L414.0,163.4 L414.5,163.1 L414.7,163.1 L415.0,163.2 L415.5,163.5 L416.0,164.1 L416.5,165.0 L417.0,166.2 L417.5,167.7 L418.0,169.4 L418.5,171.5 L419.0,173.9 L419.5,176.5 L420.0,179.6 L420.5,182.9 L421.0,186.7 L421.5,191.0 L422.0,195.9 L422.5,201.6 L423.0,208.4 L423.5,216.5 L424.0,226.4 L424.5,238.7 L425.0,254.1 L425.2,261.3 L425.5,249.0 L426.0,232.5 L426.5,220.0 L427.0,210.2 L427.5,202.5 L428.0,196.1 L428.5,190.8 L429.0,186.2 L429.5,182.3 L430.0,178.9 L430.5,175.9 L431.0,173.4 L431.5,171.3 L432.0,169.7 L432.5,168.4 L433.0,167.6 L433.5,167.2 L433.7,167.2 L434.0,167.3 L434.5,167.7 L435.0,168.5 L435.5,169.6 L436.0,171.2 L436.5,173.1 L437.0,175.4 L437.5,178.1 L438.0,181.2 L438.5,184.7 L439.0,188.7 L439.5,193.3 L440.0,198.7 L440.5,205.0 L441.0,212.6 L441.5,222.0 L442.0,233.9 L442.5,249.2 L442.9,264.6 L443.0,260.9 L443.5,245.2 L444.0,233.3 L444.5,224.3 L445.0,217.2 L445.5,211.5 L446.0,206.8 L446.5,202.7 L447.0,199.3 L447.5,196.3 L448.0,193.7 L448.5,191.5 L449.0,189.8 L449.5,188.3 L450.0,187.3 L450.5,186.7 L451.0,186.4 L451.1,186.4 L451.5,186.6 L452.0,187.5 L452.5,189.2 L453.0,191.5 L453.5,194.5 L454.0,198.2 L454.5,202.6 L455.0,207.8 L455.5,213.6 L456.0,220.1 L456.5,227.3 L457.0,235.2 L457.5,243.8 L458.0,253.0 L458.5,262.6 L459.0,272.4 L459.5,281.8 L460.0,289.6 L460.5,294.7 L461.0,298.6 L461.5,301.1 L462.0,302.3 L462.5,303.0 L463.0,303.9 L463.5,304.6 L464.0,305.1 L464.5,305.6 L465.0,305.8 L465.5,305.8 L466.0,306.5 L466.5,307.0 L467.0,307.3 L467.5,307.5 L468.0,307.6 L468.5,307.7 L469.0,307.6 L469.5,307.6 L470.0,308.4 L470.5,308.4 L471.0,308.9 L471.5,308.6 L472.0,308.9 L472.5,308.9 L473.0,309.2 L473.5,309.2 L474.0,309.1 L474.5,309.1 L475.0,309.1 L475.5,308.9 L476.0,309.4 L476.5,309.0 L477.0,309.9 L477.5,309.7 L478.0,309.7 L478.5,310.1 L479.0,310.2 L479.5,309.9 L480.0,309.7 L480.5,309.8 L481.0,309.9 L481.5,309.8 L482.0,310.1 L482.5,309.7 L483.0,310.2 L483.5,310.4 L484.0,310.3 L484.5,310.2 L485.0,310.5 L485.5,310.6 L486.0,310.6 L486.5,310.6 L487.0,310.5 L487.5,310.5 L488.0,310.4 L488.5,310.6 L489.0,310.7 L489.5,310.7 L490.0,310.9 L490.5,310.9 L491.0,310.7 L491.5,310.6 L492.0,310.8 L492.5,310.5 L493.0,310.7 L493.5,310.3 L494.0,310.5 L494.5,310.4 L495.0,310.8 L495.5,311.0 L496.0,310.9 L496.5,311.4 L497.0,311.4 L497.5,311.4 L498.0,311.3 L498.5,311.6 L499.0,311.1 L499.5,310.9 L500.0,311.0 L500.5,311.6 L501.0,311.4 L501.5,311.1 L502.0,311.2 L502.5,311.3 L503.0,311.1 L503.5,311.2 L504.0,311.4 L504.5,311.3 L505.0,310.9 L505.5,311.1 L506.0,311.3 L506.5,311.6 L507.0,311.6 L507.5,311.4 L508.0,311.0 L508.5,310.9 L509.0,311.1 L509.5,310.9 L510.0,311.2 L510.5,311.2 L511.0,311.5 L511.5,311.0 L512.0,310.9 L512.5,311.5 L513.0,311.7 L513.5,311.5 L514.0,312.0 L514.5,311.7 L515.0,311.7 L515.5,311.6 L516.0,312.0 L516.5,311.9 L517.0,311.6 L517.5,311.0 L518.0,311.3 L518.5,311.5 L519.0,311.8 L519.5,311.7 L520.0,311.8 L520.5,312.1 L521.0,311.8 L521.5,311.8 L522.0,311.4 L522.5,311.4 L523.0,311.8 L523.5,312.1 L524.0,311.7 L524.5,311.3 L525.0,311.6 L525.5,311.7 L526.0,311.7 L526.5,311.7 L527.0,311.7 L527.5,311.8 L528.0,311.7 L528.5,311.9 L529.0,311.9 L529.5,311.4 L530.0,311.5 L530.5,311.5 L531.0,311.9 L531.5,311.8 L532.0,311.5 L532.5,311.6 L533.0,312.2 L533.5,312.2 L534.0,311.9 L534.5,311.4 L535.0,311.8 L535.5,311.5 L536.0,311.8 L536.5,312.1 L537.0,312.2 L537.5,312.2 L538.0,312.0 L538.5,311.9 L539.0,311.9 L539.5,311.8 L540.0,311.7 L540.5,311.8 L541.0,311.6 L541.5,311.5 L542.0,312.0 L542.5,311.7 L543.0,312.0 L543.5,311.8 L544.0,311.9 L544.5,311.9 L545.0,311.6 L545.5,311.8 L546.0,311.4 L546.5,311.6 L547.0,311.6 L547.5,311.9 L548.0,311.5 L548.5,311.9 L549.0,312.0 L549.5,312.3 L550.0,311.9 L550.5,312.1 L551.0,312.0 L551.5,311.8 L552.0,311.5 L552.5,312.2 L553.0,311.9 L553.5,312.0 L554.0,312.1 L554.5,312.2 L555.0,312.1 L555.5,312.2 L556.0,312.1 L556.5,312.7 L557.0,312.6 L557.5,312.1 L558.0,312.4 L558.5,311.9 L559.0,311.9 L559.5,312.2 L560.0,312.3 L560.5,312.6 L561.0,312.1 L561.5,312.4 L562.0,312.7 L562.5,312.1 L563.0,312.1 L563.5,312.3 L564.0,312.0 L564.5,312.4 L565.0,312.3 L565.5,312.3 L566.0,312.2 L566.5,312.2 L567.0,312.4 L567.5,312.2 L568.0,312.1 L568.5,312.3 L569.0,312.3 L569.5,312.4 L570.0,312.5 L570.5,312.8 L571.0,312.1 L571.5,312.2 L572.0,312.5 L572.5,312.6 L573.0,312.5 L573.5,312.5 L574.0,312.8 L574.5,312.0 L575.0,312.2 L575.5,312.5 L576.0,312.6 L576.5,312.3 L577.0,312.5 L577.5,312.2 L578.0,312.7 L578.5,312.7 L579.0,312.7 L579.5,312.6 L580.0,312.9 L580.5,312.8 L581.0,312.7 L581.5,312.7 L582.0,312.8 L582.5,312.6 L583.0,312.5 L583.5,312.5 L584.0,312.6 L584.5,312.8 L585.0,313.0 L585.5,313.0 L586.0,313.0 L586.5,312.5 L587.0,312.6 L587.5,312.3 L588.0,312.5 L588.5,312.7 L589.0,312.6 L589.5,312.7 L590.0,313.2 L590.5,313.1 L591.0,313.3 L591.5,312.9 L592.0,312.8 L592.5,313.1 L593.0,313.1 L593.5,313.1 L594.0,312.7 L594.5,313.5 L595.0,313.2 L595.5,313.1 L596.0,313.1 L596.5,312.7 L597.0,312.9 L597.5,313.0 L598.0,312.9 L598.5,312.7 L599.0,313.1 L599.5,313.2 L600.0,313.2 L600.5,313.0 L601.0,313.2 L601.5,312.7 L602.0,312.9 L602.5,313.0 L603.0,313.5 L603.5,313.3 L604.0,313.0 L604.5,312.9 L605.0,312.8 L605.5,313.2 L606.0,313.0 L606.5,313.2 L607.0,313.0 L607.5,313.0 L608.0,313.1 L608.5,312.9 L609.0,313.2 L609.5,312.9 L610.0,312.9 L610.5,313.2 L611.0,313.2 L611.5,313.3 L612.0,313.3 L612.5,313.7 L613.0,313.6 L613.5,313.4 L614.0,313.5 L614.5,313.6 L615.0,313.5 L615.5,313.2 L616.0,313.1 L616.5,313.0 L617.0,313.2 L617.5,313.4 L618.0,313.5 L618.5,313.5 L619.0,313.2 L619.5,313.2 L620.0,313.2 L620.5,313.1 L621.0,313.3 L621.5,313.3 L622.0,313.6 L622.5,313.5 L623.0,313.5 L623.5,313.0 L624.0,313.4 L624.5,313.3 L625.0,313.4 L625.5,313.3 L626.0,313.6 L626.5,313.3 L627.0,313.3 L627.5,313.3 L628.0,313.1 L628.5,313.4 L629.0,313.4 L629.5,313.4 L630.0,313.3 L630.5,313.9 L631.0,313.9 L631.5,313.8 L632.0,314.0 L632.5,314.3 L633.0,314.0 L633.5,313.7 L634.0,313.4 L634.5,314.1 L635.0,314.0 L635.5,313.5 L636.0,313.3 L636.5,313.3 L637.0,313.4 L637.5,313.8 L638.0,314.1 L638.5,313.5 L639.0,313.9 L639.5,313.7 L640.0,313.8 L640.5,313.7 L641.0,314.0 L641.5,313.5 L642.0,314.0 L642.5,314.0 L643.0,313.9 L643.5,313.8 L644.0,313.7 L644.5,313.3 L645.0,313.7 L645.5,313.6 L646.0,313.6 L646.5,313.6 L647.0,313.9 L647.5,313.9 L648.0,314.0 L648.5,314.6 L649.0,314.4" stroke="#7f7f7f"/>
</g>
<rect x="90.5" y="52.5" width="558" height="326" fill="none" stroke="#cccccc" stroke-width="1" shape-rendering="crispEdges"/>
<g filter="url(#gf)">
<text x="164.2" y="391.8" font-size="14.4" letter-spacing="-0.35" text-anchor="middle">842</text>
<text x="238.8" y="391.8" font-size="14.4" letter-spacing="-0.35" text-anchor="middle">844</text>
<text x="313.3" y="391.8" font-size="14.4" letter-spacing="-0.35" text-anchor="middle">846</text>
<text x="387.8" y="391.8" font-size="14.4" letter-spacing="-0.35" text-anchor="middle">848</text>
<text x="462.3" y="391.8" font-size="14.4" letter-spacing="-0.35" text-anchor="middle">850</text>
<text x="536.9" y="391.8" font-size="14.4" letter-spacing="-0.35" text-anchor="middle">852</text>
<text x="611.4" y="391.8" font-size="14.4" letter-spacing="-0.35" text-anchor="middle">854</text>
<text x="86.2" y="353.6" font-size="14.4" letter-spacing="-0.35" text-anchor="end">−80</text>
<text x="86.2" y="294.3" font-size="14.4" letter-spacing="-0.35" text-anchor="end">−60</text>
<text x="86.2" y="235.0" font-size="14.4" letter-spacing="-0.35" text-anchor="end">−40</text>
<text x="86.2" y="175.7" font-size="14.4" letter-spacing="-0.35" text-anchor="end">−20</text>
<text x="86.2" y="116.4" font-size="14.4" letter-spacing="-0.35" text-anchor="end">0</text>
<text x="86.2" y="57.1" font-size="14.4" letter-spacing="-0.35" text-anchor="end">20</text>
<text x="368.5" y="411.7" font-size="17.28" letter-spacing="0.03" text-anchor="middle">Wavelength [nm]</text>
<text transform="translate(54.5,215.2) rotate(-90)" font-size="17.28" letter-spacing="0.03" text-anchor="middle">Optical Power [dB]</text>
<text x="369.3" y="45.8" font-size="17.28" letter-spacing="0.09" text-anchor="middle">D4423 V20204 Reception Test</text>
</g>
<rect x="97.5" y="59.5" width="87" height="153" rx="2.9" ry="2.9" fill="#fff" fill-opacity="0.8" stroke="#cccccc" stroke-opacity="0.8" stroke-width="1"/>
<path d="M103,71H132" stroke="#bcbd22" stroke-width="1.5" stroke-linecap="square" stroke-opacity="1.00" fill="none"/>
<text filter="url(#gf)" x="143.1" y="76.00" font-size="14.4">Ch. 1</text>
<path d="M103,92H132" stroke="#ff7f0e" stroke-width="1.5" stroke-linecap="square" stroke-opacity="1.00" fill="none"/>
<text filter="url(#gf)" x="143.1" y="97.00" font-size="14.4">Ch. 2</text>
<path d="M103,113H132" stroke="#d62728" stroke-width="1.5" stroke-linecap="square" stroke-opacity="1.00" fill="none"/>
<text filter="url(#gf)" x="143.1" y="118.00" font-size="14.4">Ch. 3</text>
<path d="M103,134H132" stroke="#9467bd" stroke-width="1.5" stroke-linecap="square" stroke-opacity="1.00" fill="none"/>
<text filter="url(#gf)" x="143.1" y="139.00" font-size="14.4">Ch. 4</text>
<path d="M103,156H132" stroke="#1f77b4" stroke-width="1.5" stroke-linecap="square" stroke-opacity="1.00" fill="none"/>
<text filter="url(#gf)" x="143.1" y="161.00" font-size="14.4">Ch. 5</text>
<path d="M103,177H132" stroke="#17becf" stroke-width="1.5" stroke-linecap="square" stroke-opacity="1.00" fill="none"/>
<text filter="url(#gf)" x="143.1" y="182.00" font-size="14.4">Ch. 6</text>
<path d="M103,198H132" stroke="#7f7f7f" stroke-width="1.5" stroke-linecap="square" stroke-opacity="1.00" fill="none"/>
<text filter="url(#gf)" x="143.1" y="203.00" font-size="14.4">Ch. 7</text>
</svg></body></html>
